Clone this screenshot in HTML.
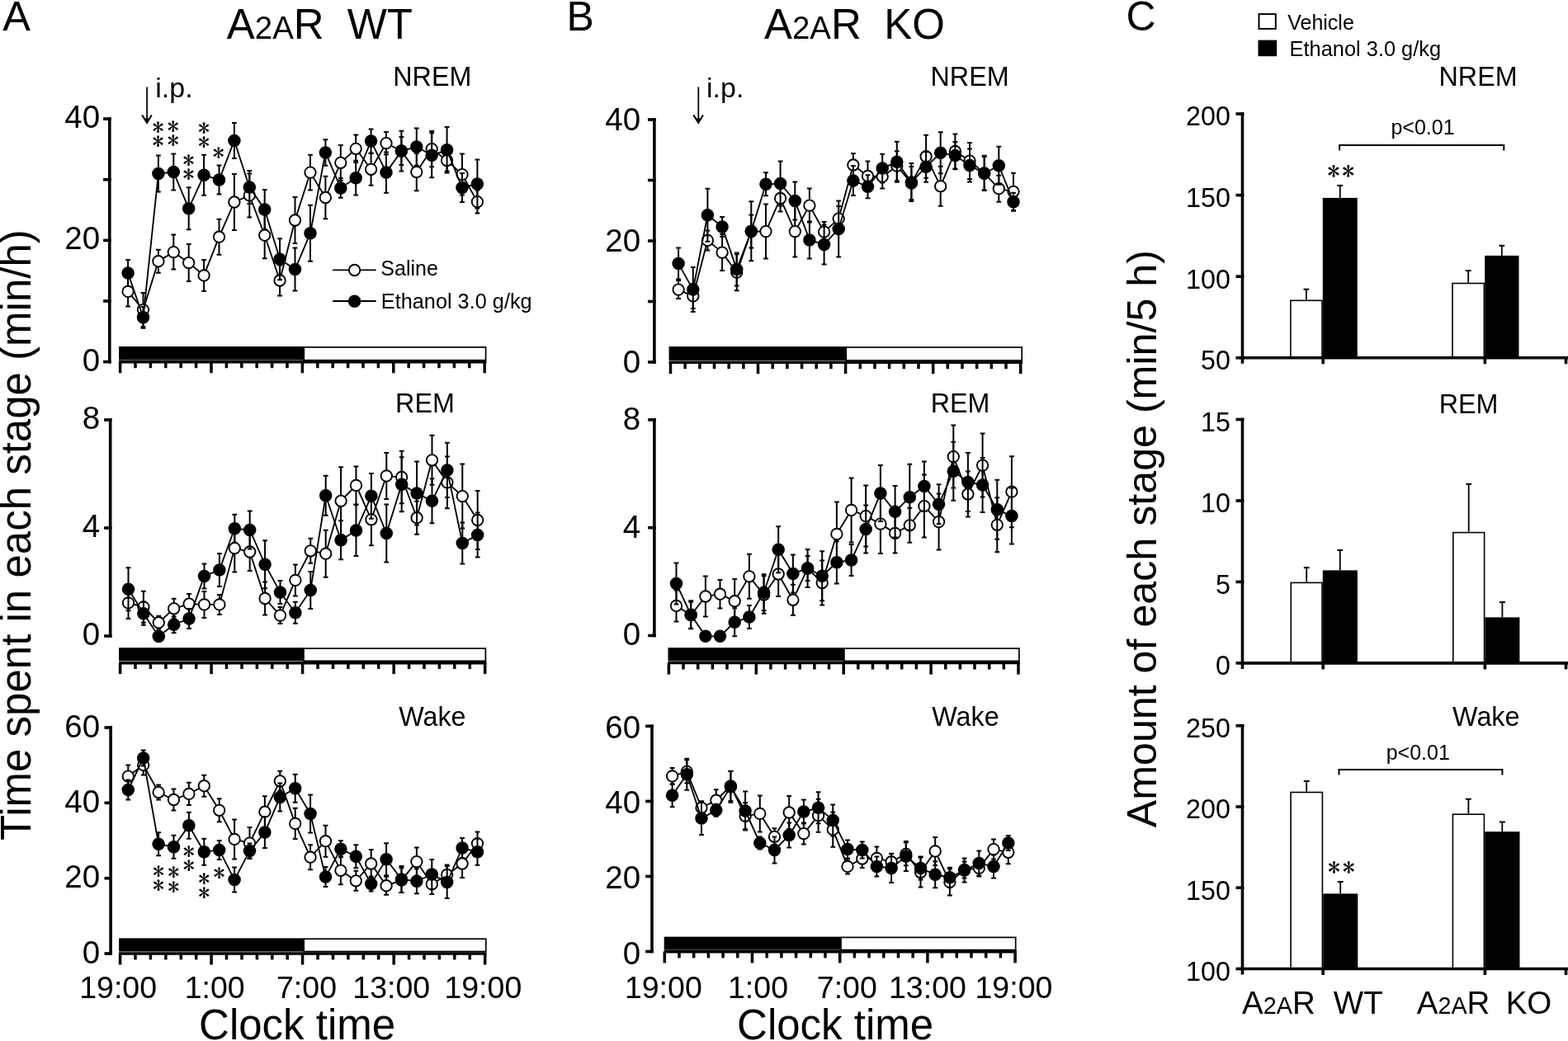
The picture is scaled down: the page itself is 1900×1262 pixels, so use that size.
<!DOCTYPE html>
<html><head><meta charset="utf-8"><title>Figure</title>
<style>html,body{margin:0;padding:0;background:#fff;overflow:hidden;} svg{display:block;}</style>
</head><body>
<svg width="1900" height="1262" viewBox="0 0 1900 1262">
<rect width="1900" height="1262" fill="#fff"/>
<text x="3.3" y="37.0" font-family="'Liberation Sans', Arial, sans-serif" font-size="50.5" text-anchor="start" >A</text>
<text x="686.4" y="36.9" font-family="'Liberation Sans', Arial, sans-serif" font-size="50" text-anchor="start" >B</text>
<text x="1364.6" y="36.9" font-family="'Liberation Sans', Arial, sans-serif" font-size="50" text-anchor="start" >C</text>
<text x="274.7" y="47" font-family="'Liberation Sans', Arial, sans-serif" font-size="51">A<tspan font-size="38.5">2A</tspan>R</text>
<text x="420.7" y="47" font-family="'Liberation Sans', Arial, sans-serif" font-size="51">WT</text>
<text x="925.9" y="46.8" font-family="'Liberation Sans', Arial, sans-serif" font-size="51">A<tspan font-size="38.5">2A</tspan>R</text>
<text x="1071.2" y="46.8" font-family="'Liberation Sans', Arial, sans-serif" font-size="51">KO</text>
<line x1="132.8" y1="142.3" x2="132.8" y2="440.4" stroke="#000" stroke-width="3.6" />
<line x1="125.1" y1="438.6" x2="134.7" y2="438.6" stroke="#000" stroke-width="3.6" />
<line x1="125.1" y1="365.0" x2="134.7" y2="365.0" stroke="#000" stroke-width="3.6" />
<line x1="125.1" y1="291.4" x2="134.7" y2="291.4" stroke="#000" stroke-width="3.6" />
<line x1="125.1" y1="217.7" x2="134.7" y2="217.7" stroke="#000" stroke-width="3.6" />
<line x1="125.1" y1="144.1" x2="134.7" y2="144.1" stroke="#000" stroke-width="3.6" />
<text x="121.2" y="449.6" font-family="'Liberation Sans', Arial, sans-serif" font-size="38.5" text-anchor="end" >0</text>
<text x="121.2" y="302.4" font-family="'Liberation Sans', Arial, sans-serif" font-size="38.5" text-anchor="end" >20</text>
<text x="121.2" y="155.1" font-family="'Liberation Sans', Arial, sans-serif" font-size="38.5" text-anchor="end" >40</text>
<rect x="144.1" y="420.0" width="224.2" height="16.6" fill="#000"/>
<rect x="368.3" y="420.9" width="220.3" height="15.8" fill="#fff" stroke="#000" stroke-width="1.7"/>
<line x1="144.1" y1="438.8" x2="589.5" y2="438.8" stroke="#000" stroke-width="3.6" />
<line x1="145.6" y1="438.8" x2="145.6" y2="452.3" stroke="#000" stroke-width="3.5" />
<line x1="164.0" y1="438.8" x2="164.0" y2="446.2" stroke="#000" stroke-width="3.5" />
<line x1="182.4" y1="438.8" x2="182.4" y2="446.2" stroke="#000" stroke-width="3.5" />
<line x1="200.8" y1="438.8" x2="200.8" y2="446.2" stroke="#000" stroke-width="3.5" />
<line x1="219.2" y1="438.8" x2="219.2" y2="446.2" stroke="#000" stroke-width="3.5" />
<line x1="237.6" y1="438.8" x2="237.6" y2="446.2" stroke="#000" stroke-width="3.5" />
<line x1="256.0" y1="438.8" x2="256.0" y2="452.3" stroke="#000" stroke-width="3.5" />
<line x1="274.4" y1="438.8" x2="274.4" y2="446.2" stroke="#000" stroke-width="3.5" />
<line x1="292.8" y1="438.8" x2="292.8" y2="446.2" stroke="#000" stroke-width="3.5" />
<line x1="311.2" y1="438.8" x2="311.2" y2="446.2" stroke="#000" stroke-width="3.5" />
<line x1="329.6" y1="438.8" x2="329.6" y2="446.2" stroke="#000" stroke-width="3.5" />
<line x1="348.0" y1="438.8" x2="348.0" y2="446.2" stroke="#000" stroke-width="3.5" />
<line x1="366.4" y1="438.8" x2="366.4" y2="452.3" stroke="#000" stroke-width="3.5" />
<line x1="384.8" y1="438.8" x2="384.8" y2="446.2" stroke="#000" stroke-width="3.5" />
<line x1="403.2" y1="438.8" x2="403.2" y2="446.2" stroke="#000" stroke-width="3.5" />
<line x1="421.6" y1="438.8" x2="421.6" y2="446.2" stroke="#000" stroke-width="3.5" />
<line x1="440.0" y1="438.8" x2="440.0" y2="446.2" stroke="#000" stroke-width="3.5" />
<line x1="458.4" y1="438.8" x2="458.4" y2="446.2" stroke="#000" stroke-width="3.5" />
<line x1="476.8" y1="438.8" x2="476.8" y2="452.3" stroke="#000" stroke-width="3.5" />
<line x1="495.2" y1="438.8" x2="495.2" y2="446.2" stroke="#000" stroke-width="3.5" />
<line x1="513.6" y1="438.8" x2="513.6" y2="446.2" stroke="#000" stroke-width="3.5" />
<line x1="532.0" y1="438.8" x2="532.0" y2="446.2" stroke="#000" stroke-width="3.5" />
<line x1="550.4" y1="438.8" x2="550.4" y2="446.2" stroke="#000" stroke-width="3.5" />
<line x1="568.8" y1="438.8" x2="568.8" y2="446.2" stroke="#000" stroke-width="3.5" />
<line x1="587.2" y1="438.8" x2="587.2" y2="452.3" stroke="#000" stroke-width="3.5" />
<path d="M155.1,353.4 L173.5,375.6 L191.9,316.7 L210.3,305.6 L228.7,318.6 L247.1,333.9 L265.5,287.2 L283.9,245.0 L302.3,236.9 L320.7,285.2 L339.1,340.0 L357.5,267.0 L376.0,209.1 L394.4,239.5 L412.8,197.3 L431.2,180.3 L449.6,205.3 L468.0,173.6 L486.4,183.0 L504.8,208.5 L523.2,180.6 L541.6,194.5 L560.0,211.6 L578.4,244.6" fill="none" stroke="#000" stroke-width="1.85"/>
<path d="M155.1,335.4V371.4M152.2,335.4H158.0M152.2,371.4H158.0" stroke="#000" stroke-width="2.0" fill="none"/>
<path d="M173.5,355.0V396.2M170.6,355.0H176.4M170.6,396.2H176.4" stroke="#000" stroke-width="2.0" fill="none"/>
<path d="M191.9,302.7V330.7M189.0,302.7H194.8M189.0,330.7H194.8" stroke="#000" stroke-width="2.0" fill="none"/>
<path d="M210.3,284.6V326.6M207.4,284.6H213.2M207.4,326.6H213.2" stroke="#000" stroke-width="2.0" fill="none"/>
<path d="M228.7,296.1V341.1M225.8,296.1H231.6M225.8,341.1H231.6" stroke="#000" stroke-width="2.0" fill="none"/>
<path d="M247.1,314.9V352.9M244.2,314.9H250.0M244.2,352.9H250.0" stroke="#000" stroke-width="2.0" fill="none"/>
<path d="M265.5,265.7V308.7M262.6,265.7H268.4M262.6,308.7H268.4" stroke="#000" stroke-width="2.0" fill="none"/>
<path d="M283.9,211.0V279.0M281.0,211.0H286.8M281.0,279.0H286.8" stroke="#000" stroke-width="2.0" fill="none"/>
<path d="M302.3,210.4V263.4M299.4,210.4H305.2M299.4,263.4H305.2" stroke="#000" stroke-width="2.0" fill="none"/>
<path d="M320.7,257.2V313.2M317.8,257.2H323.6M317.8,313.2H323.6" stroke="#000" stroke-width="2.0" fill="none"/>
<path d="M339.1,321.6V358.4M336.2,321.6H342.0M336.2,358.4H342.0" stroke="#000" stroke-width="2.0" fill="none"/>
<path d="M357.5,239.0V295.0M354.6,239.0H360.4M354.6,295.0H360.4" stroke="#000" stroke-width="2.0" fill="none"/>
<path d="M376.0,187.7V230.5M373.1,187.7H378.9M373.1,230.5H378.9" stroke="#000" stroke-width="2.0" fill="none"/>
<path d="M394.4,213.8V265.2M391.5,213.8H397.3M391.5,265.2H397.3" stroke="#000" stroke-width="2.0" fill="none"/>
<path d="M412.8,175.9V218.7M409.9,175.9H415.7M409.9,218.7H415.7" stroke="#000" stroke-width="2.0" fill="none"/>
<path d="M431.2,163.5V197.1M428.3,163.5H434.1M428.3,197.1H434.1" stroke="#000" stroke-width="2.0" fill="none"/>
<path d="M449.6,185.9V224.7M446.7,185.9H452.5M446.7,224.7H452.5" stroke="#000" stroke-width="2.0" fill="none"/>
<path d="M468.0,159.9V187.3M465.1,159.9H470.9M465.1,187.3H470.9" stroke="#000" stroke-width="2.0" fill="none"/>
<path d="M486.4,166.0V200.0M483.5,166.0H489.3M483.5,200.0H489.3" stroke="#000" stroke-width="2.0" fill="none"/>
<path d="M504.8,185.7V231.3M501.9,185.7H507.7M501.9,231.3H507.7" stroke="#000" stroke-width="2.0" fill="none"/>
<path d="M523.2,159.0V202.2M520.3,159.0H526.1M520.3,202.2H526.1" stroke="#000" stroke-width="2.0" fill="none"/>
<path d="M541.6,181.5V207.5M538.7,181.5H544.5M538.7,207.5H544.5" stroke="#000" stroke-width="2.0" fill="none"/>
<path d="M560.0,186.6V236.6M557.1,186.6H562.9M557.1,236.6H562.9" stroke="#000" stroke-width="2.0" fill="none"/>
<path d="M578.4,230.6V258.6M575.5,230.6H581.3M575.5,258.6H581.3" stroke="#000" stroke-width="2.0" fill="none"/>
<circle cx="155.1" cy="353.4" r="6.7" fill="#fff" stroke="#000" stroke-width="1.9"/>
<circle cx="173.5" cy="375.6" r="6.7" fill="#fff" stroke="#000" stroke-width="1.9"/>
<circle cx="191.9" cy="316.7" r="6.7" fill="#fff" stroke="#000" stroke-width="1.9"/>
<circle cx="210.3" cy="305.6" r="6.7" fill="#fff" stroke="#000" stroke-width="1.9"/>
<circle cx="228.7" cy="318.6" r="6.7" fill="#fff" stroke="#000" stroke-width="1.9"/>
<circle cx="247.1" cy="333.9" r="6.7" fill="#fff" stroke="#000" stroke-width="1.9"/>
<circle cx="265.5" cy="287.2" r="6.7" fill="#fff" stroke="#000" stroke-width="1.9"/>
<circle cx="283.9" cy="245.0" r="6.7" fill="#fff" stroke="#000" stroke-width="1.9"/>
<circle cx="302.3" cy="236.9" r="6.7" fill="#fff" stroke="#000" stroke-width="1.9"/>
<circle cx="320.7" cy="285.2" r="6.7" fill="#fff" stroke="#000" stroke-width="1.9"/>
<circle cx="339.1" cy="340.0" r="6.7" fill="#fff" stroke="#000" stroke-width="1.9"/>
<circle cx="357.5" cy="267.0" r="6.7" fill="#fff" stroke="#000" stroke-width="1.9"/>
<circle cx="376.0" cy="209.1" r="6.7" fill="#fff" stroke="#000" stroke-width="1.9"/>
<circle cx="394.4" cy="239.5" r="6.7" fill="#fff" stroke="#000" stroke-width="1.9"/>
<circle cx="412.8" cy="197.3" r="6.7" fill="#fff" stroke="#000" stroke-width="1.9"/>
<circle cx="431.2" cy="180.3" r="6.7" fill="#fff" stroke="#000" stroke-width="1.9"/>
<circle cx="449.6" cy="205.3" r="6.7" fill="#fff" stroke="#000" stroke-width="1.9"/>
<circle cx="468.0" cy="173.6" r="6.7" fill="#fff" stroke="#000" stroke-width="1.9"/>
<circle cx="486.4" cy="183.0" r="6.7" fill="#fff" stroke="#000" stroke-width="1.9"/>
<circle cx="504.8" cy="208.5" r="6.7" fill="#fff" stroke="#000" stroke-width="1.9"/>
<circle cx="523.2" cy="180.6" r="6.7" fill="#fff" stroke="#000" stroke-width="1.9"/>
<circle cx="541.6" cy="194.5" r="6.7" fill="#fff" stroke="#000" stroke-width="1.9"/>
<circle cx="560.0" cy="211.6" r="6.7" fill="#fff" stroke="#000" stroke-width="1.9"/>
<circle cx="578.4" cy="244.6" r="6.7" fill="#fff" stroke="#000" stroke-width="1.9"/>
<path d="M155.1,331.0 L173.5,384.8 L191.9,210.6 L210.3,208.6 L228.7,252.8 L247.1,212.3 L265.5,218.0 L283.9,170.5 L302.3,227.0 L320.7,254.0 L339.1,314.2 L357.5,326.5 L376.0,282.8 L394.4,185.0 L412.8,227.9 L431.2,215.7 L449.6,171.0 L468.0,209.1 L486.4,183.1 L504.8,178.0 L523.2,188.2 L541.6,181.8 L560.0,227.5 L578.4,223.0" fill="none" stroke="#000" stroke-width="1.85"/>
<path d="M155.1,315.0V347.0M152.2,315.0H158.0M152.2,347.0H158.0" stroke="#000" stroke-width="2.0" fill="none"/>
<path d="M173.5,371.9V397.7M170.6,371.9H176.4M170.6,397.7H176.4" stroke="#000" stroke-width="2.0" fill="none"/>
<path d="M191.9,188.6V232.6M189.0,188.6H194.8M189.0,232.6H194.8" stroke="#000" stroke-width="2.0" fill="none"/>
<path d="M210.3,186.6V230.6M207.4,186.6H213.2M207.4,230.6H213.2" stroke="#000" stroke-width="2.0" fill="none"/>
<path d="M228.7,227.3V278.3M225.8,227.3H231.6M225.8,278.3H231.6" stroke="#000" stroke-width="2.0" fill="none"/>
<path d="M247.1,187.8V236.8M244.2,187.8H250.0M244.2,236.8H250.0" stroke="#000" stroke-width="2.0" fill="none"/>
<path d="M265.5,200.5V235.5M262.6,200.5H268.4M262.6,235.5H268.4" stroke="#000" stroke-width="2.0" fill="none"/>
<path d="M283.9,149.0V192.0M281.0,149.0H286.8M281.0,192.0H286.8" stroke="#000" stroke-width="2.0" fill="none"/>
<path d="M302.3,207.0V247.0M299.4,207.0H305.2M299.4,247.0H305.2" stroke="#000" stroke-width="2.0" fill="none"/>
<path d="M320.7,230.0V278.0M317.8,230.0H323.6M317.8,278.0H323.6" stroke="#000" stroke-width="2.0" fill="none"/>
<path d="M339.1,289.2V339.2M336.2,289.2H342.0M336.2,339.2H342.0" stroke="#000" stroke-width="2.0" fill="none"/>
<path d="M357.5,300.5V352.5M354.6,300.5H360.4M354.6,352.5H360.4" stroke="#000" stroke-width="2.0" fill="none"/>
<path d="M376.0,248.8V316.8M373.1,248.8H378.9M373.1,316.8H378.9" stroke="#000" stroke-width="2.0" fill="none"/>
<path d="M394.4,169.2V200.8M391.5,169.2H397.3M391.5,200.8H397.3" stroke="#000" stroke-width="2.0" fill="none"/>
<path d="M412.8,216.1V239.7M409.9,216.1H415.7M409.9,239.7H415.7" stroke="#000" stroke-width="2.0" fill="none"/>
<path d="M431.2,194.8V236.6M428.3,194.8H434.1M428.3,236.6H434.1" stroke="#000" stroke-width="2.0" fill="none"/>
<path d="M449.6,156.5V185.5M446.7,156.5H452.5M446.7,185.5H452.5" stroke="#000" stroke-width="2.0" fill="none"/>
<path d="M468.0,184.4V233.8M465.1,184.4H470.9M465.1,233.8H470.9" stroke="#000" stroke-width="2.0" fill="none"/>
<path d="M486.4,158.7V207.5M483.5,158.7H489.3M483.5,207.5H489.3" stroke="#000" stroke-width="2.0" fill="none"/>
<path d="M504.8,155.5V200.5M501.9,155.5H507.7M501.9,200.5H507.7" stroke="#000" stroke-width="2.0" fill="none"/>
<path d="M523.2,161.2V215.2M520.3,161.2H526.1M520.3,215.2H526.1" stroke="#000" stroke-width="2.0" fill="none"/>
<path d="M541.6,154.0V209.6M538.7,154.0H544.5M538.7,209.6H544.5" stroke="#000" stroke-width="2.0" fill="none"/>
<path d="M560.0,210.0V245.0M557.1,210.0H562.9M557.1,245.0H562.9" stroke="#000" stroke-width="2.0" fill="none"/>
<path d="M578.4,193.5V252.5M575.5,193.5H581.3M575.5,252.5H581.3" stroke="#000" stroke-width="2.0" fill="none"/>
<circle cx="155.1" cy="331.0" r="7.75" fill="#000"/>
<circle cx="173.5" cy="384.8" r="7.75" fill="#000"/>
<circle cx="191.9" cy="210.6" r="7.75" fill="#000"/>
<circle cx="210.3" cy="208.6" r="7.75" fill="#000"/>
<circle cx="228.7" cy="252.8" r="7.75" fill="#000"/>
<circle cx="247.1" cy="212.3" r="7.75" fill="#000"/>
<circle cx="265.5" cy="218.0" r="7.75" fill="#000"/>
<circle cx="283.9" cy="170.5" r="7.75" fill="#000"/>
<circle cx="302.3" cy="227.0" r="7.75" fill="#000"/>
<circle cx="320.7" cy="254.0" r="7.75" fill="#000"/>
<circle cx="339.1" cy="314.2" r="7.75" fill="#000"/>
<circle cx="357.5" cy="326.5" r="7.75" fill="#000"/>
<circle cx="376.0" cy="282.8" r="7.75" fill="#000"/>
<circle cx="394.4" cy="185.0" r="7.75" fill="#000"/>
<circle cx="412.8" cy="227.9" r="7.75" fill="#000"/>
<circle cx="431.2" cy="215.7" r="7.75" fill="#000"/>
<circle cx="449.6" cy="171.0" r="7.75" fill="#000"/>
<circle cx="468.0" cy="209.1" r="7.75" fill="#000"/>
<circle cx="486.4" cy="183.1" r="7.75" fill="#000"/>
<circle cx="504.8" cy="178.0" r="7.75" fill="#000"/>
<circle cx="523.2" cy="188.2" r="7.75" fill="#000"/>
<circle cx="541.6" cy="181.8" r="7.75" fill="#000"/>
<circle cx="560.0" cy="227.5" r="7.75" fill="#000"/>
<circle cx="578.4" cy="223.0" r="7.75" fill="#000"/>
<text x="476.3" y="103.8" font-family="'Liberation Sans', Arial, sans-serif" font-size="32.3" text-anchor="start" >NREM</text>
<line x1="133.7" y1="507.2" x2="133.7" y2="772.8" stroke="#000" stroke-width="3.6" />
<line x1="126.1" y1="771.0" x2="135.5" y2="771.0" stroke="#000" stroke-width="3.6" />
<line x1="126.1" y1="640.0" x2="135.5" y2="640.0" stroke="#000" stroke-width="3.6" />
<line x1="126.1" y1="509.0" x2="135.5" y2="509.0" stroke="#000" stroke-width="3.6" />
<text x="121.1" y="782.0" font-family="'Liberation Sans', Arial, sans-serif" font-size="38.5" text-anchor="end" >0</text>
<text x="121.1" y="651.0" font-family="'Liberation Sans', Arial, sans-serif" font-size="38.5" text-anchor="end" >4</text>
<text x="121.1" y="520.0" font-family="'Liberation Sans', Arial, sans-serif" font-size="38.5" text-anchor="end" >8</text>
<rect x="144.1" y="785.2" width="223.9" height="16.0" fill="#000"/>
<rect x="368.0" y="786.1" width="220.4" height="15.2" fill="#fff" stroke="#000" stroke-width="1.7"/>
<line x1="144.1" y1="803.6" x2="589.4" y2="803.6" stroke="#000" stroke-width="3.6" />
<line x1="145.6" y1="803.6" x2="145.6" y2="817.1" stroke="#000" stroke-width="3.5" />
<line x1="164.0" y1="803.6" x2="164.0" y2="811.0" stroke="#000" stroke-width="3.5" />
<line x1="182.4" y1="803.6" x2="182.4" y2="811.0" stroke="#000" stroke-width="3.5" />
<line x1="200.9" y1="803.6" x2="200.9" y2="811.0" stroke="#000" stroke-width="3.5" />
<line x1="219.3" y1="803.6" x2="219.3" y2="811.0" stroke="#000" stroke-width="3.5" />
<line x1="237.7" y1="803.6" x2="237.7" y2="811.0" stroke="#000" stroke-width="3.5" />
<line x1="256.1" y1="803.6" x2="256.1" y2="817.1" stroke="#000" stroke-width="3.5" />
<line x1="274.5" y1="803.6" x2="274.5" y2="811.0" stroke="#000" stroke-width="3.5" />
<line x1="293.0" y1="803.6" x2="293.0" y2="811.0" stroke="#000" stroke-width="3.5" />
<line x1="311.4" y1="803.6" x2="311.4" y2="811.0" stroke="#000" stroke-width="3.5" />
<line x1="329.8" y1="803.6" x2="329.8" y2="811.0" stroke="#000" stroke-width="3.5" />
<line x1="348.2" y1="803.6" x2="348.2" y2="811.0" stroke="#000" stroke-width="3.5" />
<line x1="366.6" y1="803.6" x2="366.6" y2="817.1" stroke="#000" stroke-width="3.5" />
<line x1="385.1" y1="803.6" x2="385.1" y2="811.0" stroke="#000" stroke-width="3.5" />
<line x1="403.5" y1="803.6" x2="403.5" y2="811.0" stroke="#000" stroke-width="3.5" />
<line x1="421.9" y1="803.6" x2="421.9" y2="811.0" stroke="#000" stroke-width="3.5" />
<line x1="440.3" y1="803.6" x2="440.3" y2="811.0" stroke="#000" stroke-width="3.5" />
<line x1="458.7" y1="803.6" x2="458.7" y2="811.0" stroke="#000" stroke-width="3.5" />
<line x1="477.2" y1="803.6" x2="477.2" y2="817.1" stroke="#000" stroke-width="3.5" />
<line x1="495.6" y1="803.6" x2="495.6" y2="811.0" stroke="#000" stroke-width="3.5" />
<line x1="514.0" y1="803.6" x2="514.0" y2="811.0" stroke="#000" stroke-width="3.5" />
<line x1="532.4" y1="803.6" x2="532.4" y2="811.0" stroke="#000" stroke-width="3.5" />
<line x1="550.8" y1="803.6" x2="550.8" y2="811.0" stroke="#000" stroke-width="3.5" />
<line x1="569.3" y1="803.6" x2="569.3" y2="811.0" stroke="#000" stroke-width="3.5" />
<line x1="587.7" y1="803.6" x2="587.7" y2="817.1" stroke="#000" stroke-width="3.5" />
<path d="M155.5,730.9 L173.9,735.8 L192.3,754.7 L210.7,737.8 L229.1,732.1 L247.5,732.9 L265.9,732.9 L284.3,664.6 L302.7,669.0 L321.1,725.5 L339.5,746.1 L357.9,703.4 L376.3,667.8 L394.7,671.2 L413.1,607.3 L431.5,588.4 L449.9,629.8 L468.3,576.9 L486.7,578.5 L505.1,627.7 L523.5,557.8 L541.9,584.9 L560.3,601.6 L578.7,630.5" fill="none" stroke="#000" stroke-width="1.85"/>
<path d="M155.5,711.9V749.9M152.6,711.9H158.4M152.6,749.9H158.4" stroke="#000" stroke-width="2.0" fill="none"/>
<path d="M173.9,716.8V754.8M171.0,716.8H176.8M171.0,754.8H176.8" stroke="#000" stroke-width="2.0" fill="none"/>
<path d="M192.3,746.7V762.7M189.4,746.7H195.2M189.4,762.7H195.2" stroke="#000" stroke-width="2.0" fill="none"/>
<path d="M210.7,725.8V749.8M207.8,725.8H213.6M207.8,749.8H213.6" stroke="#000" stroke-width="2.0" fill="none"/>
<path d="M229.1,720.1V744.1M226.2,720.1H232.0M226.2,744.1H232.0" stroke="#000" stroke-width="2.0" fill="none"/>
<path d="M247.5,716.9V748.9M244.6,716.9H250.4M244.6,748.9H250.4" stroke="#000" stroke-width="2.0" fill="none"/>
<path d="M265.9,720.9V744.9M263.0,720.9H268.8M263.0,744.9H268.8" stroke="#000" stroke-width="2.0" fill="none"/>
<path d="M284.3,635.6V693.6M281.4,635.6H287.2M281.4,693.6H287.2" stroke="#000" stroke-width="2.0" fill="none"/>
<path d="M302.7,646.0V692.0M299.8,646.0H305.6M299.8,692.0H305.6" stroke="#000" stroke-width="2.0" fill="none"/>
<path d="M321.1,705.5V745.5M318.2,705.5H324.0M318.2,745.5H324.0" stroke="#000" stroke-width="2.0" fill="none"/>
<path d="M339.5,736.1V756.1M336.6,736.1H342.4M336.6,756.1H342.4" stroke="#000" stroke-width="2.0" fill="none"/>
<path d="M357.9,684.4V722.4M355.0,684.4H360.8M355.0,722.4H360.8" stroke="#000" stroke-width="2.0" fill="none"/>
<path d="M376.3,652.8V682.8M373.4,652.8H379.2M373.4,682.8H379.2" stroke="#000" stroke-width="2.0" fill="none"/>
<path d="M394.7,642.7V699.7M391.8,642.7H397.6M391.8,699.7H397.6" stroke="#000" stroke-width="2.0" fill="none"/>
<path d="M413.1,566.3V648.3M410.2,566.3H416.0M410.2,648.3H416.0" stroke="#000" stroke-width="2.0" fill="none"/>
<path d="M431.5,565.4V611.4M428.6,565.4H434.4M428.6,611.4H434.4" stroke="#000" stroke-width="2.0" fill="none"/>
<path d="M449.9,598.4V661.2M447.0,598.4H452.8M447.0,661.2H452.8" stroke="#000" stroke-width="2.0" fill="none"/>
<path d="M468.3,548.9V604.9M465.4,548.9H471.2M465.4,604.9H471.2" stroke="#000" stroke-width="2.0" fill="none"/>
<path d="M486.7,546.8V610.2M483.8,546.8H489.6M483.8,610.2H489.6" stroke="#000" stroke-width="2.0" fill="none"/>
<path d="M505.1,607.7V647.7M502.2,607.7H508.0M502.2,647.7H508.0" stroke="#000" stroke-width="2.0" fill="none"/>
<path d="M523.5,527.8V587.8M520.6,527.8H526.4M520.6,587.8H526.4" stroke="#000" stroke-width="2.0" fill="none"/>
<path d="M541.9,553.5V616.3M539.0,553.5H544.8M539.0,616.3H544.8" stroke="#000" stroke-width="2.0" fill="none"/>
<path d="M560.3,562.6V640.6M557.4,562.6H563.2M557.4,640.6H563.2" stroke="#000" stroke-width="2.0" fill="none"/>
<path d="M578.7,595.1V665.9M575.8,595.1H581.6M575.8,665.9H581.6" stroke="#000" stroke-width="2.0" fill="none"/>
<circle cx="155.5" cy="730.9" r="6.7" fill="#fff" stroke="#000" stroke-width="1.9"/>
<circle cx="173.9" cy="735.8" r="6.7" fill="#fff" stroke="#000" stroke-width="1.9"/>
<circle cx="192.3" cy="754.7" r="6.7" fill="#fff" stroke="#000" stroke-width="1.9"/>
<circle cx="210.7" cy="737.8" r="6.7" fill="#fff" stroke="#000" stroke-width="1.9"/>
<circle cx="229.1" cy="732.1" r="6.7" fill="#fff" stroke="#000" stroke-width="1.9"/>
<circle cx="247.5" cy="732.9" r="6.7" fill="#fff" stroke="#000" stroke-width="1.9"/>
<circle cx="265.9" cy="732.9" r="6.7" fill="#fff" stroke="#000" stroke-width="1.9"/>
<circle cx="284.3" cy="664.6" r="6.7" fill="#fff" stroke="#000" stroke-width="1.9"/>
<circle cx="302.7" cy="669.0" r="6.7" fill="#fff" stroke="#000" stroke-width="1.9"/>
<circle cx="321.1" cy="725.5" r="6.7" fill="#fff" stroke="#000" stroke-width="1.9"/>
<circle cx="339.5" cy="746.1" r="6.7" fill="#fff" stroke="#000" stroke-width="1.9"/>
<circle cx="357.9" cy="703.4" r="6.7" fill="#fff" stroke="#000" stroke-width="1.9"/>
<circle cx="376.3" cy="667.8" r="6.7" fill="#fff" stroke="#000" stroke-width="1.9"/>
<circle cx="394.7" cy="671.2" r="6.7" fill="#fff" stroke="#000" stroke-width="1.9"/>
<circle cx="413.1" cy="607.3" r="6.7" fill="#fff" stroke="#000" stroke-width="1.9"/>
<circle cx="431.5" cy="588.4" r="6.7" fill="#fff" stroke="#000" stroke-width="1.9"/>
<circle cx="449.9" cy="629.8" r="6.7" fill="#fff" stroke="#000" stroke-width="1.9"/>
<circle cx="468.3" cy="576.9" r="6.7" fill="#fff" stroke="#000" stroke-width="1.9"/>
<circle cx="486.7" cy="578.5" r="6.7" fill="#fff" stroke="#000" stroke-width="1.9"/>
<circle cx="505.1" cy="627.7" r="6.7" fill="#fff" stroke="#000" stroke-width="1.9"/>
<circle cx="523.5" cy="557.8" r="6.7" fill="#fff" stroke="#000" stroke-width="1.9"/>
<circle cx="541.9" cy="584.9" r="6.7" fill="#fff" stroke="#000" stroke-width="1.9"/>
<circle cx="560.3" cy="601.6" r="6.7" fill="#fff" stroke="#000" stroke-width="1.9"/>
<circle cx="578.7" cy="630.5" r="6.7" fill="#fff" stroke="#000" stroke-width="1.9"/>
<path d="M155.5,714.2 L173.9,743.7 L192.3,771.4 L210.7,757.2 L229.1,750.1 L247.5,698.5 L265.9,690.9 L284.3,640.8 L302.7,642.5 L321.1,684.2 L339.5,718.1 L357.9,742.7 L376.3,715.4 L394.7,600.7 L413.1,654.8 L431.5,643.0 L449.9,601.3 L468.3,646.6 L486.7,587.2 L505.1,598.1 L523.5,607.3 L541.9,569.9 L560.3,658.4 L578.7,648.6" fill="none" stroke="#000" stroke-width="1.85"/>
<path d="M155.5,688.2V740.2M152.6,688.2H158.4M152.6,740.2H158.4" stroke="#000" stroke-width="2.0" fill="none"/>
<path d="M173.9,729.7V757.7M171.0,729.7H176.8M171.0,757.7H176.8" stroke="#000" stroke-width="2.0" fill="none"/>
<path d="M210.7,747.2V767.2M207.8,747.2H213.6M207.8,767.2H213.6" stroke="#000" stroke-width="2.0" fill="none"/>
<path d="M229.1,738.1V762.1M226.2,738.1H232.0M226.2,762.1H232.0" stroke="#000" stroke-width="2.0" fill="none"/>
<path d="M247.5,683.5V713.5M244.6,683.5H250.4M244.6,713.5H250.4" stroke="#000" stroke-width="2.0" fill="none"/>
<path d="M265.9,670.9V710.9M263.0,670.9H268.8M263.0,710.9H268.8" stroke="#000" stroke-width="2.0" fill="none"/>
<path d="M284.3,623.8V657.8M281.4,623.8H287.2M281.4,657.8H287.2" stroke="#000" stroke-width="2.0" fill="none"/>
<path d="M302.7,619.5V665.5M299.8,619.5H305.6M299.8,665.5H305.6" stroke="#000" stroke-width="2.0" fill="none"/>
<path d="M321.1,655.2V713.2M318.2,655.2H324.0M318.2,713.2H324.0" stroke="#000" stroke-width="2.0" fill="none"/>
<path d="M339.5,704.1V732.1M336.6,704.1H342.4M336.6,732.1H342.4" stroke="#000" stroke-width="2.0" fill="none"/>
<path d="M357.9,729.7V755.7M355.0,729.7H360.8M355.0,755.7H360.8" stroke="#000" stroke-width="2.0" fill="none"/>
<path d="M376.3,692.9V737.9M373.4,692.9H379.2M373.4,737.9H379.2" stroke="#000" stroke-width="2.0" fill="none"/>
<path d="M394.7,576.7V624.7M391.8,576.7H397.6M391.8,624.7H397.6" stroke="#000" stroke-width="2.0" fill="none"/>
<path d="M413.1,631.3V678.3M410.2,631.3H416.0M410.2,678.3H416.0" stroke="#000" stroke-width="2.0" fill="none"/>
<path d="M431.5,612.0V674.0M428.6,612.0H434.4M428.6,674.0H434.4" stroke="#000" stroke-width="2.0" fill="none"/>
<path d="M449.9,573.9V628.7M447.0,573.9H452.8M447.0,628.7H452.8" stroke="#000" stroke-width="2.0" fill="none"/>
<path d="M468.3,611.6V681.6M465.4,611.6H471.2M465.4,681.6H471.2" stroke="#000" stroke-width="2.0" fill="none"/>
<path d="M486.7,554.2V620.2M483.8,554.2H489.6M483.8,620.2H489.6" stroke="#000" stroke-width="2.0" fill="none"/>
<path d="M505.1,559.6V636.6M502.2,559.6H508.0M502.2,636.6H508.0" stroke="#000" stroke-width="2.0" fill="none"/>
<path d="M523.5,580.3V634.3M520.6,580.3H526.4M520.6,634.3H526.4" stroke="#000" stroke-width="2.0" fill="none"/>
<path d="M541.9,536.8V603.0M539.0,536.8H544.8M539.0,603.0H544.8" stroke="#000" stroke-width="2.0" fill="none"/>
<path d="M560.3,633.4V683.4M557.4,633.4H563.2M557.4,683.4H563.2" stroke="#000" stroke-width="2.0" fill="none"/>
<path d="M578.7,621.6V675.6M575.8,621.6H581.6M575.8,675.6H581.6" stroke="#000" stroke-width="2.0" fill="none"/>
<circle cx="155.5" cy="714.2" r="7.75" fill="#000"/>
<circle cx="173.9" cy="743.7" r="7.75" fill="#000"/>
<circle cx="192.3" cy="771.4" r="7.75" fill="#000"/>
<circle cx="210.7" cy="757.2" r="7.75" fill="#000"/>
<circle cx="229.1" cy="750.1" r="7.75" fill="#000"/>
<circle cx="247.5" cy="698.5" r="7.75" fill="#000"/>
<circle cx="265.9" cy="690.9" r="7.75" fill="#000"/>
<circle cx="284.3" cy="640.8" r="7.75" fill="#000"/>
<circle cx="302.7" cy="642.5" r="7.75" fill="#000"/>
<circle cx="321.1" cy="684.2" r="7.75" fill="#000"/>
<circle cx="339.5" cy="718.1" r="7.75" fill="#000"/>
<circle cx="357.9" cy="742.7" r="7.75" fill="#000"/>
<circle cx="376.3" cy="715.4" r="7.75" fill="#000"/>
<circle cx="394.7" cy="600.7" r="7.75" fill="#000"/>
<circle cx="413.1" cy="654.8" r="7.75" fill="#000"/>
<circle cx="431.5" cy="643.0" r="7.75" fill="#000"/>
<circle cx="449.9" cy="601.3" r="7.75" fill="#000"/>
<circle cx="468.3" cy="646.6" r="7.75" fill="#000"/>
<circle cx="486.7" cy="587.2" r="7.75" fill="#000"/>
<circle cx="505.1" cy="598.1" r="7.75" fill="#000"/>
<circle cx="523.5" cy="607.3" r="7.75" fill="#000"/>
<circle cx="541.9" cy="569.9" r="7.75" fill="#000"/>
<circle cx="560.3" cy="658.4" r="7.75" fill="#000"/>
<circle cx="578.7" cy="648.6" r="7.75" fill="#000"/>
<text x="479.1" y="499.7" font-family="'Liberation Sans', Arial, sans-serif" font-size="32.3" text-anchor="start" >REM</text>
<line x1="134.1" y1="880.2" x2="134.1" y2="1157.8" stroke="#000" stroke-width="3.6" />
<line x1="126.5" y1="1156.0" x2="135.9" y2="1156.0" stroke="#000" stroke-width="3.6" />
<line x1="126.5" y1="1064.7" x2="135.9" y2="1064.7" stroke="#000" stroke-width="3.6" />
<line x1="126.5" y1="973.3" x2="135.9" y2="973.3" stroke="#000" stroke-width="3.6" />
<line x1="126.5" y1="882.0" x2="135.9" y2="882.0" stroke="#000" stroke-width="3.6" />
<text x="121.2" y="1167.6" font-family="'Liberation Sans', Arial, sans-serif" font-size="38.5" text-anchor="end" >0</text>
<text x="121.2" y="1076.3" font-family="'Liberation Sans', Arial, sans-serif" font-size="38.5" text-anchor="end" >20</text>
<text x="121.2" y="984.9" font-family="'Liberation Sans', Arial, sans-serif" font-size="38.5" text-anchor="end" >40</text>
<text x="121.2" y="893.6" font-family="'Liberation Sans', Arial, sans-serif" font-size="38.5" text-anchor="end" >60</text>
<rect x="144.1" y="1137.4" width="224.1" height="16.2" fill="#000"/>
<rect x="368.2" y="1138.2" width="220.6" height="15.3" fill="#fff" stroke="#000" stroke-width="1.7"/>
<line x1="144.1" y1="1156.0" x2="589.6" y2="1156.0" stroke="#000" stroke-width="3.6" />
<line x1="145.6" y1="1156.0" x2="145.6" y2="1169.5" stroke="#000" stroke-width="3.5" />
<line x1="164.0" y1="1156.0" x2="164.0" y2="1163.4" stroke="#000" stroke-width="3.5" />
<line x1="182.4" y1="1156.0" x2="182.4" y2="1163.4" stroke="#000" stroke-width="3.5" />
<line x1="200.9" y1="1156.0" x2="200.9" y2="1163.4" stroke="#000" stroke-width="3.5" />
<line x1="219.3" y1="1156.0" x2="219.3" y2="1163.4" stroke="#000" stroke-width="3.5" />
<line x1="237.7" y1="1156.0" x2="237.7" y2="1163.4" stroke="#000" stroke-width="3.5" />
<line x1="256.1" y1="1156.0" x2="256.1" y2="1169.5" stroke="#000" stroke-width="3.5" />
<line x1="274.5" y1="1156.0" x2="274.5" y2="1163.4" stroke="#000" stroke-width="3.5" />
<line x1="293.0" y1="1156.0" x2="293.0" y2="1163.4" stroke="#000" stroke-width="3.5" />
<line x1="311.4" y1="1156.0" x2="311.4" y2="1163.4" stroke="#000" stroke-width="3.5" />
<line x1="329.8" y1="1156.0" x2="329.8" y2="1163.4" stroke="#000" stroke-width="3.5" />
<line x1="348.2" y1="1156.0" x2="348.2" y2="1163.4" stroke="#000" stroke-width="3.5" />
<line x1="366.6" y1="1156.0" x2="366.6" y2="1169.5" stroke="#000" stroke-width="3.5" />
<line x1="385.1" y1="1156.0" x2="385.1" y2="1163.4" stroke="#000" stroke-width="3.5" />
<line x1="403.5" y1="1156.0" x2="403.5" y2="1163.4" stroke="#000" stroke-width="3.5" />
<line x1="421.9" y1="1156.0" x2="421.9" y2="1163.4" stroke="#000" stroke-width="3.5" />
<line x1="440.3" y1="1156.0" x2="440.3" y2="1163.4" stroke="#000" stroke-width="3.5" />
<line x1="458.7" y1="1156.0" x2="458.7" y2="1163.4" stroke="#000" stroke-width="3.5" />
<line x1="477.2" y1="1156.0" x2="477.2" y2="1169.5" stroke="#000" stroke-width="3.5" />
<line x1="495.6" y1="1156.0" x2="495.6" y2="1163.4" stroke="#000" stroke-width="3.5" />
<line x1="514.0" y1="1156.0" x2="514.0" y2="1163.4" stroke="#000" stroke-width="3.5" />
<line x1="532.4" y1="1156.0" x2="532.4" y2="1163.4" stroke="#000" stroke-width="3.5" />
<line x1="550.8" y1="1156.0" x2="550.8" y2="1163.4" stroke="#000" stroke-width="3.5" />
<line x1="569.3" y1="1156.0" x2="569.3" y2="1163.4" stroke="#000" stroke-width="3.5" />
<line x1="587.7" y1="1156.0" x2="587.7" y2="1169.5" stroke="#000" stroke-width="3.5" />
<path d="M155.3,941.1 L173.7,927.4 L192.1,960.5 L210.5,969.5 L228.9,962.4 L247.3,952.7 L265.7,982.3 L284.1,1017.4 L302.5,1022.1 L320.9,984.2 L339.3,946.8 L357.7,998.4 L376.1,1039.2 L394.5,1019.7 L412.9,1055.3 L431.3,1067.8 L449.7,1047.0 L468.1,1073.7 L486.5,1067.1 L504.9,1044.6 L523.3,1071.9 L541.7,1060.5 L560.1,1047.0 L578.5,1022.6" fill="none" stroke="#000" stroke-width="1.85"/>
<path d="M155.3,927.6V954.6M152.4,927.6H158.2M152.4,954.6H158.2" stroke="#000" stroke-width="2.0" fill="none"/>
<path d="M173.7,915.4V939.4M170.8,915.4H176.6M170.8,939.4H176.6" stroke="#000" stroke-width="2.0" fill="none"/>
<path d="M192.1,951.5V969.5M189.2,951.5H195.0M189.2,969.5H195.0" stroke="#000" stroke-width="2.0" fill="none"/>
<path d="M210.5,956.5V982.5M207.6,956.5H213.4M207.6,982.5H213.4" stroke="#000" stroke-width="2.0" fill="none"/>
<path d="M228.9,948.8V976.0M226.0,948.8H231.8M226.0,976.0H231.8" stroke="#000" stroke-width="2.0" fill="none"/>
<path d="M247.3,939.7V965.7M244.4,939.7H250.2M244.4,965.7H250.2" stroke="#000" stroke-width="2.0" fill="none"/>
<path d="M265.7,968.3V996.3M262.8,968.3H268.6M262.8,996.3H268.6" stroke="#000" stroke-width="2.0" fill="none"/>
<path d="M284.1,993.4V1041.4M281.2,993.4H287.0M281.2,1041.4H287.0" stroke="#000" stroke-width="2.0" fill="none"/>
<path d="M302.5,1003.1V1041.1M299.6,1003.1H305.4M299.6,1041.1H305.4" stroke="#000" stroke-width="2.0" fill="none"/>
<path d="M320.9,965.2V1003.2M318.0,965.2H323.8M318.0,1003.2H323.8" stroke="#000" stroke-width="2.0" fill="none"/>
<path d="M339.3,934.8V958.8M336.4,934.8H342.2M336.4,958.8H342.2" stroke="#000" stroke-width="2.0" fill="none"/>
<path d="M357.7,979.7V1017.1M354.8,979.7H360.6M354.8,1017.1H360.6" stroke="#000" stroke-width="2.0" fill="none"/>
<path d="M376.1,1024.2V1054.2M373.2,1024.2H379.0M373.2,1054.2H379.0" stroke="#000" stroke-width="2.0" fill="none"/>
<path d="M394.5,1000.7V1038.7M391.6,1000.7H397.4M391.6,1038.7H397.4" stroke="#000" stroke-width="2.0" fill="none"/>
<path d="M412.9,1038.3V1072.3M410.0,1038.3H415.8M410.0,1072.3H415.8" stroke="#000" stroke-width="2.0" fill="none"/>
<path d="M431.3,1055.8V1079.8M428.4,1055.8H434.2M428.4,1079.8H434.2" stroke="#000" stroke-width="2.0" fill="none"/>
<path d="M449.7,1030.0V1064.0M446.8,1030.0H452.6M446.8,1064.0H452.6" stroke="#000" stroke-width="2.0" fill="none"/>
<path d="M468.1,1062.7V1084.7M465.2,1062.7H471.0M465.2,1084.7H471.0" stroke="#000" stroke-width="2.0" fill="none"/>
<path d="M486.5,1052.1V1082.1M483.6,1052.1H489.4M483.6,1082.1H489.4" stroke="#000" stroke-width="2.0" fill="none"/>
<path d="M504.9,1027.6V1061.6M502.0,1027.6H507.8M502.0,1061.6H507.8" stroke="#000" stroke-width="2.0" fill="none"/>
<path d="M523.3,1059.9V1083.9M520.4,1059.9H526.2M520.4,1083.9H526.2" stroke="#000" stroke-width="2.0" fill="none"/>
<path d="M541.7,1048.5V1072.5M538.8,1048.5H544.6M538.8,1072.5H544.6" stroke="#000" stroke-width="2.0" fill="none"/>
<path d="M560.1,1030.0V1064.0M557.2,1030.0H563.0M557.2,1064.0H563.0" stroke="#000" stroke-width="2.0" fill="none"/>
<path d="M578.5,1008.6V1036.6M575.6,1008.6H581.4M575.6,1036.6H581.4" stroke="#000" stroke-width="2.0" fill="none"/>
<circle cx="155.3" cy="941.1" r="6.7" fill="#fff" stroke="#000" stroke-width="1.9"/>
<circle cx="173.7" cy="927.4" r="6.7" fill="#fff" stroke="#000" stroke-width="1.9"/>
<circle cx="192.1" cy="960.5" r="6.7" fill="#fff" stroke="#000" stroke-width="1.9"/>
<circle cx="210.5" cy="969.5" r="6.7" fill="#fff" stroke="#000" stroke-width="1.9"/>
<circle cx="228.9" cy="962.4" r="6.7" fill="#fff" stroke="#000" stroke-width="1.9"/>
<circle cx="247.3" cy="952.7" r="6.7" fill="#fff" stroke="#000" stroke-width="1.9"/>
<circle cx="265.7" cy="982.3" r="6.7" fill="#fff" stroke="#000" stroke-width="1.9"/>
<circle cx="284.1" cy="1017.4" r="6.7" fill="#fff" stroke="#000" stroke-width="1.9"/>
<circle cx="302.5" cy="1022.1" r="6.7" fill="#fff" stroke="#000" stroke-width="1.9"/>
<circle cx="320.9" cy="984.2" r="6.7" fill="#fff" stroke="#000" stroke-width="1.9"/>
<circle cx="339.3" cy="946.8" r="6.7" fill="#fff" stroke="#000" stroke-width="1.9"/>
<circle cx="357.7" cy="998.4" r="6.7" fill="#fff" stroke="#000" stroke-width="1.9"/>
<circle cx="376.1" cy="1039.2" r="6.7" fill="#fff" stroke="#000" stroke-width="1.9"/>
<circle cx="394.5" cy="1019.7" r="6.7" fill="#fff" stroke="#000" stroke-width="1.9"/>
<circle cx="412.9" cy="1055.3" r="6.7" fill="#fff" stroke="#000" stroke-width="1.9"/>
<circle cx="431.3" cy="1067.8" r="6.7" fill="#fff" stroke="#000" stroke-width="1.9"/>
<circle cx="449.7" cy="1047.0" r="6.7" fill="#fff" stroke="#000" stroke-width="1.9"/>
<circle cx="468.1" cy="1073.7" r="6.7" fill="#fff" stroke="#000" stroke-width="1.9"/>
<circle cx="486.5" cy="1067.1" r="6.7" fill="#fff" stroke="#000" stroke-width="1.9"/>
<circle cx="504.9" cy="1044.6" r="6.7" fill="#fff" stroke="#000" stroke-width="1.9"/>
<circle cx="523.3" cy="1071.9" r="6.7" fill="#fff" stroke="#000" stroke-width="1.9"/>
<circle cx="541.7" cy="1060.5" r="6.7" fill="#fff" stroke="#000" stroke-width="1.9"/>
<circle cx="560.1" cy="1047.0" r="6.7" fill="#fff" stroke="#000" stroke-width="1.9"/>
<circle cx="578.5" cy="1022.6" r="6.7" fill="#fff" stroke="#000" stroke-width="1.9"/>
<path d="M155.3,957.5 L173.7,919.1 L192.1,1023.3 L210.5,1026.8 L228.9,1000.8 L247.3,1032.8 L265.7,1030.4 L284.1,1066.6 L302.5,1031.6 L320.9,1009.1 L339.3,966.5 L357.7,955.8 L376.1,986.6 L394.5,1063.1 L412.9,1029.2 L431.3,1038.2 L449.7,1071.4 L468.1,1041.8 L486.5,1065.9 L504.9,1068.3 L523.3,1060.0 L541.7,1069.5 L560.1,1028.0 L578.5,1032.8" fill="none" stroke="#000" stroke-width="1.85"/>
<path d="M155.3,945.5V969.5M152.4,945.5H158.2M152.4,969.5H158.2" stroke="#000" stroke-width="2.0" fill="none"/>
<path d="M173.7,909.6V928.6M170.8,909.6H176.6M170.8,928.6H176.6" stroke="#000" stroke-width="2.0" fill="none"/>
<path d="M192.1,1009.3V1037.3M189.2,1009.3H195.0M189.2,1037.3H195.0" stroke="#000" stroke-width="2.0" fill="none"/>
<path d="M210.5,1012.8V1040.8M207.6,1012.8H213.4M207.6,1040.8H213.4" stroke="#000" stroke-width="2.0" fill="none"/>
<path d="M228.9,984.8V1016.8M226.0,984.8H231.8M226.0,1016.8H231.8" stroke="#000" stroke-width="2.0" fill="none"/>
<path d="M247.3,1016.8V1048.8M244.4,1016.8H250.2M244.4,1048.8H250.2" stroke="#000" stroke-width="2.0" fill="none"/>
<path d="M265.7,1018.9V1041.9M262.8,1018.9H268.6M262.8,1041.9H268.6" stroke="#000" stroke-width="2.0" fill="none"/>
<path d="M284.1,1051.6V1081.6M281.2,1051.6H287.0M281.2,1081.6H287.0" stroke="#000" stroke-width="2.0" fill="none"/>
<path d="M302.5,1022.6V1040.6M299.6,1022.6H305.4M299.6,1040.6H305.4" stroke="#000" stroke-width="2.0" fill="none"/>
<path d="M320.9,990.1V1028.1M318.0,990.1H323.8M318.0,1028.1H323.8" stroke="#000" stroke-width="2.0" fill="none"/>
<path d="M339.3,949.5V983.5M336.4,949.5H342.2M336.4,983.5H342.2" stroke="#000" stroke-width="2.0" fill="none"/>
<path d="M357.7,938.8V972.8M354.8,938.8H360.6M354.8,972.8H360.6" stroke="#000" stroke-width="2.0" fill="none"/>
<path d="M376.1,963.6V1009.6M373.2,963.6H379.0M373.2,1009.6H379.0" stroke="#000" stroke-width="2.0" fill="none"/>
<path d="M394.5,1051.1V1075.1M391.6,1051.1H397.4M391.6,1075.1H397.4" stroke="#000" stroke-width="2.0" fill="none"/>
<path d="M412.9,1019.2V1039.2M410.0,1019.2H415.8M410.0,1039.2H415.8" stroke="#000" stroke-width="2.0" fill="none"/>
<path d="M431.3,1024.2V1052.2M428.4,1024.2H434.2M428.4,1052.2H434.2" stroke="#000" stroke-width="2.0" fill="none"/>
<path d="M449.7,1062.4V1080.4M446.8,1062.4H452.6M446.8,1080.4H452.6" stroke="#000" stroke-width="2.0" fill="none"/>
<path d="M468.1,1022.3V1061.3M465.2,1022.3H471.0M465.2,1061.3H471.0" stroke="#000" stroke-width="2.0" fill="none"/>
<path d="M486.5,1049.9V1081.9M483.6,1049.9H489.4M483.6,1081.9H489.4" stroke="#000" stroke-width="2.0" fill="none"/>
<path d="M504.9,1053.3V1083.3M502.0,1053.3H507.8M502.0,1083.3H507.8" stroke="#000" stroke-width="2.0" fill="none"/>
<path d="M523.3,1042.0V1078.0M520.4,1042.0H526.2M520.4,1078.0H526.2" stroke="#000" stroke-width="2.0" fill="none"/>
<path d="M541.7,1050.0V1089.0M538.8,1050.0H544.6M538.8,1089.0H544.6" stroke="#000" stroke-width="2.0" fill="none"/>
<path d="M560.1,1016.0V1040.0M557.2,1016.0H563.0M557.2,1040.0H563.0" stroke="#000" stroke-width="2.0" fill="none"/>
<path d="M578.5,1016.8V1048.8M575.6,1016.8H581.4M575.6,1048.8H581.4" stroke="#000" stroke-width="2.0" fill="none"/>
<circle cx="155.3" cy="957.5" r="7.75" fill="#000"/>
<circle cx="173.7" cy="919.1" r="7.75" fill="#000"/>
<circle cx="192.1" cy="1023.3" r="7.75" fill="#000"/>
<circle cx="210.5" cy="1026.8" r="7.75" fill="#000"/>
<circle cx="228.9" cy="1000.8" r="7.75" fill="#000"/>
<circle cx="247.3" cy="1032.8" r="7.75" fill="#000"/>
<circle cx="265.7" cy="1030.4" r="7.75" fill="#000"/>
<circle cx="284.1" cy="1066.6" r="7.75" fill="#000"/>
<circle cx="302.5" cy="1031.6" r="7.75" fill="#000"/>
<circle cx="320.9" cy="1009.1" r="7.75" fill="#000"/>
<circle cx="339.3" cy="966.5" r="7.75" fill="#000"/>
<circle cx="357.7" cy="955.8" r="7.75" fill="#000"/>
<circle cx="376.1" cy="986.6" r="7.75" fill="#000"/>
<circle cx="394.5" cy="1063.1" r="7.75" fill="#000"/>
<circle cx="412.9" cy="1029.2" r="7.75" fill="#000"/>
<circle cx="431.3" cy="1038.2" r="7.75" fill="#000"/>
<circle cx="449.7" cy="1071.4" r="7.75" fill="#000"/>
<circle cx="468.1" cy="1041.8" r="7.75" fill="#000"/>
<circle cx="486.5" cy="1065.9" r="7.75" fill="#000"/>
<circle cx="504.9" cy="1068.3" r="7.75" fill="#000"/>
<circle cx="523.3" cy="1060.0" r="7.75" fill="#000"/>
<circle cx="541.7" cy="1069.5" r="7.75" fill="#000"/>
<circle cx="560.1" cy="1028.0" r="7.75" fill="#000"/>
<circle cx="578.5" cy="1032.8" r="7.75" fill="#000"/>
<text x="483.2" y="880.4" font-family="'Liberation Sans', Arial, sans-serif" font-size="32.3" text-anchor="start" >Wake</text>
<line x1="792.9" y1="143.2" x2="792.9" y2="440.8" stroke="#000" stroke-width="3.6" />
<line x1="785.0" y1="439.0" x2="794.7" y2="439.0" stroke="#000" stroke-width="3.6" />
<line x1="785.0" y1="365.5" x2="794.7" y2="365.5" stroke="#000" stroke-width="3.6" />
<line x1="785.0" y1="292.0" x2="794.7" y2="292.0" stroke="#000" stroke-width="3.6" />
<line x1="785.0" y1="218.5" x2="794.7" y2="218.5" stroke="#000" stroke-width="3.6" />
<line x1="785.0" y1="145.0" x2="794.7" y2="145.0" stroke="#000" stroke-width="3.6" />
<text x="776.2" y="452.0" font-family="'Liberation Sans', Arial, sans-serif" font-size="38.5" text-anchor="end" >0</text>
<text x="776.2" y="305.0" font-family="'Liberation Sans', Arial, sans-serif" font-size="38.5" text-anchor="end" >20</text>
<text x="776.2" y="158.0" font-family="'Liberation Sans', Arial, sans-serif" font-size="38.5" text-anchor="end" >40</text>
<rect x="810.6" y="420.1" width="214.7" height="16.9" fill="#000"/>
<rect x="1025.3" y="421.0" width="212.9" height="16.0" fill="#fff" stroke="#000" stroke-width="1.7"/>
<line x1="810.6" y1="439.2" x2="1239.1" y2="439.2" stroke="#000" stroke-width="3.6" />
<line x1="812.5" y1="439.2" x2="812.5" y2="453.2" stroke="#000" stroke-width="3.5" />
<line x1="830.2" y1="439.2" x2="830.2" y2="447.2" stroke="#000" stroke-width="3.5" />
<line x1="847.9" y1="439.2" x2="847.9" y2="447.2" stroke="#000" stroke-width="3.5" />
<line x1="865.5" y1="439.2" x2="865.5" y2="447.2" stroke="#000" stroke-width="3.5" />
<line x1="883.2" y1="439.2" x2="883.2" y2="447.2" stroke="#000" stroke-width="3.5" />
<line x1="900.9" y1="439.2" x2="900.9" y2="447.2" stroke="#000" stroke-width="3.5" />
<line x1="918.5" y1="439.2" x2="918.5" y2="453.2" stroke="#000" stroke-width="3.5" />
<line x1="936.2" y1="439.2" x2="936.2" y2="447.2" stroke="#000" stroke-width="3.5" />
<line x1="953.9" y1="439.2" x2="953.9" y2="447.2" stroke="#000" stroke-width="3.5" />
<line x1="971.6" y1="439.2" x2="971.6" y2="447.2" stroke="#000" stroke-width="3.5" />
<line x1="989.2" y1="439.2" x2="989.2" y2="447.2" stroke="#000" stroke-width="3.5" />
<line x1="1006.9" y1="439.2" x2="1006.9" y2="447.2" stroke="#000" stroke-width="3.5" />
<line x1="1024.6" y1="439.2" x2="1024.6" y2="453.2" stroke="#000" stroke-width="3.5" />
<line x1="1042.3" y1="439.2" x2="1042.3" y2="447.2" stroke="#000" stroke-width="3.5" />
<line x1="1060.0" y1="439.2" x2="1060.0" y2="447.2" stroke="#000" stroke-width="3.5" />
<line x1="1077.6" y1="439.2" x2="1077.6" y2="447.2" stroke="#000" stroke-width="3.5" />
<line x1="1095.3" y1="439.2" x2="1095.3" y2="447.2" stroke="#000" stroke-width="3.5" />
<line x1="1113.0" y1="439.2" x2="1113.0" y2="447.2" stroke="#000" stroke-width="3.5" />
<line x1="1130.7" y1="439.2" x2="1130.7" y2="453.2" stroke="#000" stroke-width="3.5" />
<line x1="1148.3" y1="439.2" x2="1148.3" y2="447.2" stroke="#000" stroke-width="3.5" />
<line x1="1166.0" y1="439.2" x2="1166.0" y2="447.2" stroke="#000" stroke-width="3.5" />
<line x1="1183.7" y1="439.2" x2="1183.7" y2="447.2" stroke="#000" stroke-width="3.5" />
<line x1="1201.3" y1="439.2" x2="1201.3" y2="447.2" stroke="#000" stroke-width="3.5" />
<line x1="1219.0" y1="439.2" x2="1219.0" y2="447.2" stroke="#000" stroke-width="3.5" />
<line x1="1236.7" y1="439.2" x2="1236.7" y2="453.2" stroke="#000" stroke-width="3.5" />
<path d="M822.1,351.1 L839.8,358.9 L857.4,291.4 L875.1,306.1 L892.7,330.2 L910.3,280.6 L928.0,280.6 L945.6,240.5 L963.3,280.6 L980.9,249.1 L998.6,281.1 L1016.2,265.1 L1033.9,200.0 L1051.5,213.5 L1069.2,214.2 L1086.8,201.2 L1104.4,222.1 L1122.1,189.7 L1139.7,225.8 L1157.4,183.5 L1175.0,195.1 L1192.7,209.8 L1210.3,228.7 L1228.0,232.3" fill="none" stroke="#000" stroke-width="1.85"/>
<path d="M822.1,340.1V362.1M819.2,340.1H825.0M819.2,362.1H825.0" stroke="#000" stroke-width="2.0" fill="none"/>
<path d="M839.8,343.9V373.9M836.9,343.9H842.7M836.9,373.9H842.7" stroke="#000" stroke-width="2.0" fill="none"/>
<path d="M857.4,279.4V303.4M854.5,279.4H860.3M854.5,303.4H860.3" stroke="#000" stroke-width="2.0" fill="none"/>
<path d="M875.1,284.1V328.1M872.2,284.1H878.0M872.2,328.1H878.0" stroke="#000" stroke-width="2.0" fill="none"/>
<path d="M892.7,308.2V352.2M889.8,308.2H895.6M889.8,352.2H895.6" stroke="#000" stroke-width="2.0" fill="none"/>
<path d="M910.3,260.6V300.6M907.4,260.6H913.2M907.4,300.6H913.2" stroke="#000" stroke-width="2.0" fill="none"/>
<path d="M928.0,247.6V313.6M925.1,247.6H930.9M925.1,313.6H930.9" stroke="#000" stroke-width="2.0" fill="none"/>
<path d="M945.6,224.5V256.5M942.7,224.5H948.5M942.7,256.5H948.5" stroke="#000" stroke-width="2.0" fill="none"/>
<path d="M963.3,249.6V311.6M960.4,249.6H966.2M960.4,311.6H966.2" stroke="#000" stroke-width="2.0" fill="none"/>
<path d="M980.9,228.6V269.6M978.0,228.6H983.8M978.0,269.6H983.8" stroke="#000" stroke-width="2.0" fill="none"/>
<path d="M998.6,269.1V293.1M995.7,269.1H1001.5M995.7,293.1H1001.5" stroke="#000" stroke-width="2.0" fill="none"/>
<path d="M1016.2,250.1V280.1M1013.3,250.1H1019.1M1013.3,280.1H1019.1" stroke="#000" stroke-width="2.0" fill="none"/>
<path d="M1033.9,186.0V214.0M1031.0,186.0H1036.8M1031.0,214.0H1036.8" stroke="#000" stroke-width="2.0" fill="none"/>
<path d="M1051.5,195.5V231.5M1048.6,195.5H1054.4M1048.6,231.5H1054.4" stroke="#000" stroke-width="2.0" fill="none"/>
<path d="M1069.2,200.0V228.4M1066.3,200.0H1072.1M1066.3,228.4H1072.1" stroke="#000" stroke-width="2.0" fill="none"/>
<path d="M1086.8,183.2V219.2M1083.9,183.2H1089.7M1083.9,219.2H1089.7" stroke="#000" stroke-width="2.0" fill="none"/>
<path d="M1104.4,202.1V242.1M1101.5,202.1H1107.3M1101.5,242.1H1107.3" stroke="#000" stroke-width="2.0" fill="none"/>
<path d="M1122.1,163.7V215.7M1119.2,163.7H1125.0M1119.2,215.7H1125.0" stroke="#000" stroke-width="2.0" fill="none"/>
<path d="M1139.7,201.8V249.8M1136.8,201.8H1142.6M1136.8,249.8H1142.6" stroke="#000" stroke-width="2.0" fill="none"/>
<path d="M1157.4,162.5V204.5M1154.5,162.5H1160.3M1154.5,204.5H1160.3" stroke="#000" stroke-width="2.0" fill="none"/>
<path d="M1175.0,173.1V217.1M1172.1,173.1H1177.9M1172.1,217.1H1177.9" stroke="#000" stroke-width="2.0" fill="none"/>
<path d="M1192.7,188.8V230.8M1189.8,188.8H1195.6M1189.8,230.8H1195.6" stroke="#000" stroke-width="2.0" fill="none"/>
<path d="M1210.3,212.7V244.7M1207.4,212.7H1213.2M1207.4,244.7H1213.2" stroke="#000" stroke-width="2.0" fill="none"/>
<path d="M1228.0,209.7V254.9M1225.1,209.7H1230.9M1225.1,254.9H1230.9" stroke="#000" stroke-width="2.0" fill="none"/>
<circle cx="822.1" cy="351.1" r="6.7" fill="#fff" stroke="#000" stroke-width="1.9"/>
<circle cx="839.8" cy="358.9" r="6.7" fill="#fff" stroke="#000" stroke-width="1.9"/>
<circle cx="857.4" cy="291.4" r="6.7" fill="#fff" stroke="#000" stroke-width="1.9"/>
<circle cx="875.1" cy="306.1" r="6.7" fill="#fff" stroke="#000" stroke-width="1.9"/>
<circle cx="892.7" cy="330.2" r="6.7" fill="#fff" stroke="#000" stroke-width="1.9"/>
<circle cx="910.3" cy="280.6" r="6.7" fill="#fff" stroke="#000" stroke-width="1.9"/>
<circle cx="928.0" cy="280.6" r="6.7" fill="#fff" stroke="#000" stroke-width="1.9"/>
<circle cx="945.6" cy="240.5" r="6.7" fill="#fff" stroke="#000" stroke-width="1.9"/>
<circle cx="963.3" cy="280.6" r="6.7" fill="#fff" stroke="#000" stroke-width="1.9"/>
<circle cx="980.9" cy="249.1" r="6.7" fill="#fff" stroke="#000" stroke-width="1.9"/>
<circle cx="998.6" cy="281.1" r="6.7" fill="#fff" stroke="#000" stroke-width="1.9"/>
<circle cx="1016.2" cy="265.1" r="6.7" fill="#fff" stroke="#000" stroke-width="1.9"/>
<circle cx="1033.9" cy="200.0" r="6.7" fill="#fff" stroke="#000" stroke-width="1.9"/>
<circle cx="1051.5" cy="213.5" r="6.7" fill="#fff" stroke="#000" stroke-width="1.9"/>
<circle cx="1069.2" cy="214.2" r="6.7" fill="#fff" stroke="#000" stroke-width="1.9"/>
<circle cx="1086.8" cy="201.2" r="6.7" fill="#fff" stroke="#000" stroke-width="1.9"/>
<circle cx="1104.4" cy="222.1" r="6.7" fill="#fff" stroke="#000" stroke-width="1.9"/>
<circle cx="1122.1" cy="189.7" r="6.7" fill="#fff" stroke="#000" stroke-width="1.9"/>
<circle cx="1139.7" cy="225.8" r="6.7" fill="#fff" stroke="#000" stroke-width="1.9"/>
<circle cx="1157.4" cy="183.5" r="6.7" fill="#fff" stroke="#000" stroke-width="1.9"/>
<circle cx="1175.0" cy="195.1" r="6.7" fill="#fff" stroke="#000" stroke-width="1.9"/>
<circle cx="1192.7" cy="209.8" r="6.7" fill="#fff" stroke="#000" stroke-width="1.9"/>
<circle cx="1210.3" cy="228.7" r="6.7" fill="#fff" stroke="#000" stroke-width="1.9"/>
<circle cx="1228.0" cy="232.3" r="6.7" fill="#fff" stroke="#000" stroke-width="1.9"/>
<path d="M822.1,319.6 L839.8,351.1 L857.4,260.7 L875.1,274.9 L892.7,326.5 L910.3,280.3 L928.0,223.3 L945.6,222.6 L963.3,243.5 L980.9,290.9 L998.6,296.5 L1016.2,277.4 L1033.9,218.9 L1051.5,226.3 L1069.2,204.1 L1086.8,196.3 L1104.4,220.9 L1122.1,202.3 L1139.7,185.3 L1157.4,188.6 L1175.0,200.5 L1192.7,210.2 L1210.3,200.7 L1228.0,244.7" fill="none" stroke="#000" stroke-width="1.85"/>
<path d="M822.1,300.6V338.6M819.2,300.6H825.0M819.2,338.6H825.0" stroke="#000" stroke-width="2.0" fill="none"/>
<path d="M839.8,324.1V378.1M836.9,324.1H842.7M836.9,378.1H842.7" stroke="#000" stroke-width="2.0" fill="none"/>
<path d="M857.4,228.7V292.7M854.5,228.7H860.3M854.5,292.7H860.3" stroke="#000" stroke-width="2.0" fill="none"/>
<path d="M875.1,262.9V286.9M872.2,262.9H878.0M872.2,286.9H878.0" stroke="#000" stroke-width="2.0" fill="none"/>
<path d="M892.7,306.5V346.5M889.8,306.5H895.6M889.8,346.5H895.6" stroke="#000" stroke-width="2.0" fill="none"/>
<path d="M910.3,244.3V316.3M907.4,244.3H913.2M907.4,316.3H913.2" stroke="#000" stroke-width="2.0" fill="none"/>
<path d="M928.0,209.3V237.3M925.1,209.3H930.9M925.1,237.3H930.9" stroke="#000" stroke-width="2.0" fill="none"/>
<path d="M945.6,195.6V249.6M942.7,195.6H948.5M942.7,249.6H948.5" stroke="#000" stroke-width="2.0" fill="none"/>
<path d="M963.3,220.5V266.5M960.4,220.5H966.2M960.4,266.5H966.2" stroke="#000" stroke-width="2.0" fill="none"/>
<path d="M980.9,268.4V313.4M978.0,268.4H983.8M978.0,313.4H983.8" stroke="#000" stroke-width="2.0" fill="none"/>
<path d="M998.6,272.5V320.5M995.7,272.5H1001.5M995.7,320.5H1001.5" stroke="#000" stroke-width="2.0" fill="none"/>
<path d="M1016.2,243.4V311.4M1013.3,243.4H1019.1M1013.3,311.4H1019.1" stroke="#000" stroke-width="2.0" fill="none"/>
<path d="M1033.9,200.9V236.9M1031.0,200.9H1036.8M1031.0,236.9H1036.8" stroke="#000" stroke-width="2.0" fill="none"/>
<path d="M1051.5,212.3V240.3M1048.6,212.3H1054.4M1048.6,240.3H1054.4" stroke="#000" stroke-width="2.0" fill="none"/>
<path d="M1069.2,186.8V221.4M1066.3,186.8H1072.1M1066.3,221.4H1072.1" stroke="#000" stroke-width="2.0" fill="none"/>
<path d="M1086.8,171.8V220.8M1083.9,171.8H1089.7M1083.9,220.8H1089.7" stroke="#000" stroke-width="2.0" fill="none"/>
<path d="M1104.4,197.9V243.9M1101.5,197.9H1107.3M1101.5,243.9H1107.3" stroke="#000" stroke-width="2.0" fill="none"/>
<path d="M1122.1,183.9V220.7M1119.2,183.9H1125.0M1119.2,220.7H1125.0" stroke="#000" stroke-width="2.0" fill="none"/>
<path d="M1139.7,160.3V210.3M1136.8,160.3H1142.6M1136.8,210.3H1142.6" stroke="#000" stroke-width="2.0" fill="none"/>
<path d="M1157.4,172.0V205.2M1154.5,172.0H1160.3M1154.5,205.2H1160.3" stroke="#000" stroke-width="2.0" fill="none"/>
<path d="M1175.0,180.5V220.5M1172.1,180.5H1177.9M1172.1,220.5H1177.9" stroke="#000" stroke-width="2.0" fill="none"/>
<path d="M1192.7,190.0V230.4M1189.8,190.0H1195.6M1189.8,230.4H1195.6" stroke="#000" stroke-width="2.0" fill="none"/>
<path d="M1210.3,177.7V223.7M1207.4,177.7H1213.2M1207.4,223.7H1213.2" stroke="#000" stroke-width="2.0" fill="none"/>
<path d="M1228.0,233.7V255.7M1225.1,233.7H1230.9M1225.1,255.7H1230.9" stroke="#000" stroke-width="2.0" fill="none"/>
<circle cx="822.1" cy="319.6" r="7.75" fill="#000"/>
<circle cx="839.8" cy="351.1" r="7.75" fill="#000"/>
<circle cx="857.4" cy="260.7" r="7.75" fill="#000"/>
<circle cx="875.1" cy="274.9" r="7.75" fill="#000"/>
<circle cx="892.7" cy="326.5" r="7.75" fill="#000"/>
<circle cx="910.3" cy="280.3" r="7.75" fill="#000"/>
<circle cx="928.0" cy="223.3" r="7.75" fill="#000"/>
<circle cx="945.6" cy="222.6" r="7.75" fill="#000"/>
<circle cx="963.3" cy="243.5" r="7.75" fill="#000"/>
<circle cx="980.9" cy="290.9" r="7.75" fill="#000"/>
<circle cx="998.6" cy="296.5" r="7.75" fill="#000"/>
<circle cx="1016.2" cy="277.4" r="7.75" fill="#000"/>
<circle cx="1033.9" cy="218.9" r="7.75" fill="#000"/>
<circle cx="1051.5" cy="226.3" r="7.75" fill="#000"/>
<circle cx="1069.2" cy="204.1" r="7.75" fill="#000"/>
<circle cx="1086.8" cy="196.3" r="7.75" fill="#000"/>
<circle cx="1104.4" cy="220.9" r="7.75" fill="#000"/>
<circle cx="1122.1" cy="202.3" r="7.75" fill="#000"/>
<circle cx="1139.7" cy="185.3" r="7.75" fill="#000"/>
<circle cx="1157.4" cy="188.6" r="7.75" fill="#000"/>
<circle cx="1175.0" cy="200.5" r="7.75" fill="#000"/>
<circle cx="1192.7" cy="210.2" r="7.75" fill="#000"/>
<circle cx="1210.3" cy="200.7" r="7.75" fill="#000"/>
<circle cx="1228.0" cy="244.7" r="7.75" fill="#000"/>
<text x="1127.5" y="104.2" font-family="'Liberation Sans', Arial, sans-serif" font-size="32.3" text-anchor="start" >NREM</text>
<line x1="792.9" y1="507.1" x2="792.9" y2="772.3" stroke="#000" stroke-width="3.6" />
<line x1="785.2" y1="770.5" x2="794.7" y2="770.5" stroke="#000" stroke-width="3.6" />
<line x1="785.2" y1="639.7" x2="794.7" y2="639.7" stroke="#000" stroke-width="3.6" />
<line x1="785.2" y1="508.9" x2="794.7" y2="508.9" stroke="#000" stroke-width="3.6" />
<text x="776.1" y="782.4" font-family="'Liberation Sans', Arial, sans-serif" font-size="38.5" text-anchor="end" >0</text>
<text x="776.1" y="651.6" font-family="'Liberation Sans', Arial, sans-serif" font-size="38.5" text-anchor="end" >4</text>
<text x="776.1" y="520.8" font-family="'Liberation Sans', Arial, sans-serif" font-size="38.5" text-anchor="end" >8</text>
<rect x="809.5" y="785.2" width="213.4" height="16.2" fill="#000"/>
<rect x="1022.9" y="786.1" width="212.0" height="15.3" fill="#fff" stroke="#000" stroke-width="1.7"/>
<line x1="809.5" y1="803.5" x2="1235.8" y2="803.5" stroke="#000" stroke-width="3.6" />
<line x1="810.4" y1="803.5" x2="810.4" y2="817.6" stroke="#000" stroke-width="3.5" />
<line x1="828.0" y1="803.5" x2="828.0" y2="811.5" stroke="#000" stroke-width="3.5" />
<line x1="845.7" y1="803.5" x2="845.7" y2="811.5" stroke="#000" stroke-width="3.5" />
<line x1="863.4" y1="803.5" x2="863.4" y2="811.5" stroke="#000" stroke-width="3.5" />
<line x1="881.0" y1="803.5" x2="881.0" y2="811.5" stroke="#000" stroke-width="3.5" />
<line x1="898.6" y1="803.5" x2="898.6" y2="811.5" stroke="#000" stroke-width="3.5" />
<line x1="916.3" y1="803.5" x2="916.3" y2="817.6" stroke="#000" stroke-width="3.5" />
<line x1="933.9" y1="803.5" x2="933.9" y2="811.5" stroke="#000" stroke-width="3.5" />
<line x1="951.6" y1="803.5" x2="951.6" y2="811.5" stroke="#000" stroke-width="3.5" />
<line x1="969.2" y1="803.5" x2="969.2" y2="811.5" stroke="#000" stroke-width="3.5" />
<line x1="986.9" y1="803.5" x2="986.9" y2="811.5" stroke="#000" stroke-width="3.5" />
<line x1="1004.5" y1="803.5" x2="1004.5" y2="811.5" stroke="#000" stroke-width="3.5" />
<line x1="1022.2" y1="803.5" x2="1022.2" y2="817.6" stroke="#000" stroke-width="3.5" />
<line x1="1039.8" y1="803.5" x2="1039.8" y2="811.5" stroke="#000" stroke-width="3.5" />
<line x1="1057.5" y1="803.5" x2="1057.5" y2="811.5" stroke="#000" stroke-width="3.5" />
<line x1="1075.2" y1="803.5" x2="1075.2" y2="811.5" stroke="#000" stroke-width="3.5" />
<line x1="1092.8" y1="803.5" x2="1092.8" y2="811.5" stroke="#000" stroke-width="3.5" />
<line x1="1110.4" y1="803.5" x2="1110.4" y2="811.5" stroke="#000" stroke-width="3.5" />
<line x1="1128.1" y1="803.5" x2="1128.1" y2="817.6" stroke="#000" stroke-width="3.5" />
<line x1="1145.8" y1="803.5" x2="1145.8" y2="811.5" stroke="#000" stroke-width="3.5" />
<line x1="1163.4" y1="803.5" x2="1163.4" y2="811.5" stroke="#000" stroke-width="3.5" />
<line x1="1181.0" y1="803.5" x2="1181.0" y2="811.5" stroke="#000" stroke-width="3.5" />
<line x1="1198.7" y1="803.5" x2="1198.7" y2="811.5" stroke="#000" stroke-width="3.5" />
<line x1="1216.3" y1="803.5" x2="1216.3" y2="811.5" stroke="#000" stroke-width="3.5" />
<line x1="1234.0" y1="803.5" x2="1234.0" y2="817.6" stroke="#000" stroke-width="3.5" />
<path d="M819.5,734.4 L837.2,745.7 L854.9,723.0 L872.5,720.2 L890.2,728.7 L907.9,698.8 L925.6,721.0 L943.2,696.0 L960.9,727.3 L978.6,688.9 L996.2,706.5 L1013.9,647.4 L1031.6,618.4 L1049.2,625.6 L1066.9,635.1 L1084.6,646.4 L1102.3,636.8 L1119.9,613.6 L1137.6,632.6 L1155.3,553.6 L1172.9,599.0 L1190.6,564.1 L1208.3,636.3 L1225.9,596.2" fill="none" stroke="#000" stroke-width="1.85"/>
<path d="M819.5,715.4V753.4M816.6,715.4H822.4M816.6,753.4H822.4" stroke="#000" stroke-width="2.0" fill="none"/>
<path d="M837.2,729.7V761.7M834.3,729.7H840.1M834.3,761.7H840.1" stroke="#000" stroke-width="2.0" fill="none"/>
<path d="M854.9,698.6V747.4M852.0,698.6H857.8M852.0,747.4H857.8" stroke="#000" stroke-width="2.0" fill="none"/>
<path d="M872.5,702.9V737.5M869.6,702.9H875.4M869.6,737.5H875.4" stroke="#000" stroke-width="2.0" fill="none"/>
<path d="M890.2,702.0V755.4M887.3,702.0H893.1M887.3,755.4H893.1" stroke="#000" stroke-width="2.0" fill="none"/>
<path d="M907.9,671.8V725.8M905.0,671.8H910.8M905.0,725.8H910.8" stroke="#000" stroke-width="2.0" fill="none"/>
<path d="M925.6,698.3V743.7M922.7,698.3H928.5M922.7,743.7H928.5" stroke="#000" stroke-width="2.0" fill="none"/>
<path d="M943.2,669.0V723.0M940.3,669.0H946.1M940.3,723.0H946.1" stroke="#000" stroke-width="2.0" fill="none"/>
<path d="M960.9,708.8V745.8M958.0,708.8H963.8M958.0,745.8H963.8" stroke="#000" stroke-width="2.0" fill="none"/>
<path d="M978.6,673.9V703.9M975.7,673.9H981.5M975.7,703.9H981.5" stroke="#000" stroke-width="2.0" fill="none"/>
<path d="M996.2,679.5V733.5M993.3,679.5H999.1M993.3,733.5H999.1" stroke="#000" stroke-width="2.0" fill="none"/>
<path d="M1013.9,608.4V686.4M1011.0,608.4H1016.8M1011.0,686.4H1016.8" stroke="#000" stroke-width="2.0" fill="none"/>
<path d="M1031.6,579.4V657.4M1028.7,579.4H1034.5M1028.7,657.4H1034.5" stroke="#000" stroke-width="2.0" fill="none"/>
<path d="M1049.2,588.6V662.6M1046.3,588.6H1052.1M1046.3,662.6H1052.1" stroke="#000" stroke-width="2.0" fill="none"/>
<path d="M1066.9,599.1V671.1M1064.0,599.1H1069.8M1064.0,671.1H1069.8" stroke="#000" stroke-width="2.0" fill="none"/>
<path d="M1084.6,622.4V670.4M1081.7,622.4H1087.5M1081.7,670.4H1087.5" stroke="#000" stroke-width="2.0" fill="none"/>
<path d="M1102.3,615.8V657.8M1099.4,615.8H1105.2M1099.4,657.8H1105.2" stroke="#000" stroke-width="2.0" fill="none"/>
<path d="M1119.9,575.6V651.6M1117.0,575.6H1122.8M1117.0,651.6H1122.8" stroke="#000" stroke-width="2.0" fill="none"/>
<path d="M1137.6,598.6V666.6M1134.7,598.6H1140.5M1134.7,666.6H1140.5" stroke="#000" stroke-width="2.0" fill="none"/>
<path d="M1155.3,515.6V591.6M1152.4,515.6H1158.2M1152.4,591.6H1158.2" stroke="#000" stroke-width="2.0" fill="none"/>
<path d="M1172.9,571.5V626.5M1170.0,571.5H1175.8M1170.0,626.5H1175.8" stroke="#000" stroke-width="2.0" fill="none"/>
<path d="M1190.6,525.6V602.6M1187.7,525.6H1193.5M1187.7,602.6H1193.5" stroke="#000" stroke-width="2.0" fill="none"/>
<path d="M1208.3,603.3V669.3M1205.4,603.3H1211.2M1205.4,669.3H1211.2" stroke="#000" stroke-width="2.0" fill="none"/>
<path d="M1225.9,553.2V639.2M1223.0,553.2H1228.8M1223.0,639.2H1228.8" stroke="#000" stroke-width="2.0" fill="none"/>
<circle cx="819.5" cy="734.4" r="6.7" fill="#fff" stroke="#000" stroke-width="1.9"/>
<circle cx="837.2" cy="745.7" r="6.7" fill="#fff" stroke="#000" stroke-width="1.9"/>
<circle cx="854.9" cy="723.0" r="6.7" fill="#fff" stroke="#000" stroke-width="1.9"/>
<circle cx="872.5" cy="720.2" r="6.7" fill="#fff" stroke="#000" stroke-width="1.9"/>
<circle cx="890.2" cy="728.7" r="6.7" fill="#fff" stroke="#000" stroke-width="1.9"/>
<circle cx="907.9" cy="698.8" r="6.7" fill="#fff" stroke="#000" stroke-width="1.9"/>
<circle cx="925.6" cy="721.0" r="6.7" fill="#fff" stroke="#000" stroke-width="1.9"/>
<circle cx="943.2" cy="696.0" r="6.7" fill="#fff" stroke="#000" stroke-width="1.9"/>
<circle cx="960.9" cy="727.3" r="6.7" fill="#fff" stroke="#000" stroke-width="1.9"/>
<circle cx="978.6" cy="688.9" r="6.7" fill="#fff" stroke="#000" stroke-width="1.9"/>
<circle cx="996.2" cy="706.5" r="6.7" fill="#fff" stroke="#000" stroke-width="1.9"/>
<circle cx="1013.9" cy="647.4" r="6.7" fill="#fff" stroke="#000" stroke-width="1.9"/>
<circle cx="1031.6" cy="618.4" r="6.7" fill="#fff" stroke="#000" stroke-width="1.9"/>
<circle cx="1049.2" cy="625.6" r="6.7" fill="#fff" stroke="#000" stroke-width="1.9"/>
<circle cx="1066.9" cy="635.1" r="6.7" fill="#fff" stroke="#000" stroke-width="1.9"/>
<circle cx="1084.6" cy="646.4" r="6.7" fill="#fff" stroke="#000" stroke-width="1.9"/>
<circle cx="1102.3" cy="636.8" r="6.7" fill="#fff" stroke="#000" stroke-width="1.9"/>
<circle cx="1119.9" cy="613.6" r="6.7" fill="#fff" stroke="#000" stroke-width="1.9"/>
<circle cx="1137.6" cy="632.6" r="6.7" fill="#fff" stroke="#000" stroke-width="1.9"/>
<circle cx="1155.3" cy="553.6" r="6.7" fill="#fff" stroke="#000" stroke-width="1.9"/>
<circle cx="1172.9" cy="599.0" r="6.7" fill="#fff" stroke="#000" stroke-width="1.9"/>
<circle cx="1190.6" cy="564.1" r="6.7" fill="#fff" stroke="#000" stroke-width="1.9"/>
<circle cx="1208.3" cy="636.3" r="6.7" fill="#fff" stroke="#000" stroke-width="1.9"/>
<circle cx="1225.9" cy="596.2" r="6.7" fill="#fff" stroke="#000" stroke-width="1.9"/>
<path d="M819.5,707.4 L837.2,745.2 L854.9,771.3 L872.5,771.3 L890.2,754.3 L907.9,748.0 L925.6,718.2 L943.2,666.2 L960.9,695.4 L978.6,688.9 L996.2,698.3 L1013.9,681.8 L1031.6,679.0 L1049.2,641.4 L1066.9,598.0 L1084.6,620.3 L1102.3,602.8 L1119.9,589.4 L1137.6,611.3 L1155.3,571.2 L1172.9,584.4 L1190.6,587.9 L1208.3,617.8 L1225.9,625.6" fill="none" stroke="#000" stroke-width="1.85"/>
<path d="M819.5,682.4V732.4M816.6,682.4H822.4M816.6,732.4H822.4" stroke="#000" stroke-width="2.0" fill="none"/>
<path d="M837.2,728.2V762.2M834.3,728.2H840.1M834.3,762.2H840.1" stroke="#000" stroke-width="2.0" fill="none"/>
<path d="M890.2,737.3V771.3M887.3,737.3H893.1M887.3,771.3H893.1" stroke="#000" stroke-width="2.0" fill="none"/>
<path d="M907.9,734.0V762.0M905.0,734.0H910.8M905.0,762.0H910.8" stroke="#000" stroke-width="2.0" fill="none"/>
<path d="M925.6,696.2V740.2M922.7,696.2H928.5M922.7,740.2H928.5" stroke="#000" stroke-width="2.0" fill="none"/>
<path d="M943.2,638.2V694.2M940.3,638.2H946.1M940.3,694.2H946.1" stroke="#000" stroke-width="2.0" fill="none"/>
<path d="M960.9,672.4V718.4M958.0,672.4H963.8M958.0,718.4H963.8" stroke="#000" stroke-width="2.0" fill="none"/>
<path d="M978.6,665.9V711.9M975.7,665.9H981.5M975.7,711.9H981.5" stroke="#000" stroke-width="2.0" fill="none"/>
<path d="M996.2,668.3V728.3M993.3,668.3H999.1M993.3,728.3H999.1" stroke="#000" stroke-width="2.0" fill="none"/>
<path d="M1013.9,656.2V707.4M1011.0,656.2H1016.8M1011.0,707.4H1016.8" stroke="#000" stroke-width="2.0" fill="none"/>
<path d="M1031.6,660.0V698.0M1028.7,660.0H1034.5M1028.7,698.0H1034.5" stroke="#000" stroke-width="2.0" fill="none"/>
<path d="M1049.2,612.4V670.4M1046.3,612.4H1052.1M1046.3,670.4H1052.1" stroke="#000" stroke-width="2.0" fill="none"/>
<path d="M1066.9,564.0V632.0M1064.0,564.0H1069.8M1064.0,632.0H1069.8" stroke="#000" stroke-width="2.0" fill="none"/>
<path d="M1084.6,589.0V651.6M1081.7,589.0H1087.5M1081.7,651.6H1087.5" stroke="#000" stroke-width="2.0" fill="none"/>
<path d="M1102.3,562.8V642.8M1099.4,562.8H1105.2M1099.4,642.8H1105.2" stroke="#000" stroke-width="2.0" fill="none"/>
<path d="M1119.9,559.4V619.4M1117.0,559.4H1122.8M1117.0,619.4H1122.8" stroke="#000" stroke-width="2.0" fill="none"/>
<path d="M1137.6,587.3V635.3M1134.7,587.3H1140.5M1134.7,635.3H1140.5" stroke="#000" stroke-width="2.0" fill="none"/>
<path d="M1155.3,535.7V606.7M1152.4,535.7H1158.2M1152.4,606.7H1158.2" stroke="#000" stroke-width="2.0" fill="none"/>
<path d="M1172.9,548.9V619.9M1170.0,548.9H1175.8M1170.0,619.9H1175.8" stroke="#000" stroke-width="2.0" fill="none"/>
<path d="M1190.6,554.9V620.9M1187.7,554.9H1193.5M1187.7,620.9H1193.5" stroke="#000" stroke-width="2.0" fill="none"/>
<path d="M1208.3,581.8V653.8M1205.4,581.8H1211.2M1205.4,653.8H1211.2" stroke="#000" stroke-width="2.0" fill="none"/>
<path d="M1225.9,591.6V659.6M1223.0,591.6H1228.8M1223.0,659.6H1228.8" stroke="#000" stroke-width="2.0" fill="none"/>
<circle cx="819.5" cy="707.4" r="7.75" fill="#000"/>
<circle cx="837.2" cy="745.2" r="7.75" fill="#000"/>
<circle cx="854.9" cy="771.3" r="7.75" fill="#000"/>
<circle cx="872.5" cy="771.3" r="7.75" fill="#000"/>
<circle cx="890.2" cy="754.3" r="7.75" fill="#000"/>
<circle cx="907.9" cy="748.0" r="7.75" fill="#000"/>
<circle cx="925.6" cy="718.2" r="7.75" fill="#000"/>
<circle cx="943.2" cy="666.2" r="7.75" fill="#000"/>
<circle cx="960.9" cy="695.4" r="7.75" fill="#000"/>
<circle cx="978.6" cy="688.9" r="7.75" fill="#000"/>
<circle cx="996.2" cy="698.3" r="7.75" fill="#000"/>
<circle cx="1013.9" cy="681.8" r="7.75" fill="#000"/>
<circle cx="1031.6" cy="679.0" r="7.75" fill="#000"/>
<circle cx="1049.2" cy="641.4" r="7.75" fill="#000"/>
<circle cx="1066.9" cy="598.0" r="7.75" fill="#000"/>
<circle cx="1084.6" cy="620.3" r="7.75" fill="#000"/>
<circle cx="1102.3" cy="602.8" r="7.75" fill="#000"/>
<circle cx="1119.9" cy="589.4" r="7.75" fill="#000"/>
<circle cx="1137.6" cy="611.3" r="7.75" fill="#000"/>
<circle cx="1155.3" cy="571.2" r="7.75" fill="#000"/>
<circle cx="1172.9" cy="584.4" r="7.75" fill="#000"/>
<circle cx="1190.6" cy="587.9" r="7.75" fill="#000"/>
<circle cx="1208.3" cy="617.8" r="7.75" fill="#000"/>
<circle cx="1225.9" cy="625.6" r="7.75" fill="#000"/>
<text x="1127.7" y="500.0" font-family="'Liberation Sans', Arial, sans-serif" font-size="32.3" text-anchor="start" >REM</text>
<line x1="790.0" y1="878.5" x2="790.0" y2="1155.3" stroke="#000" stroke-width="3.6" />
<line x1="782.2" y1="1153.5" x2="791.8" y2="1153.5" stroke="#000" stroke-width="3.6" />
<line x1="782.2" y1="1062.4" x2="791.8" y2="1062.4" stroke="#000" stroke-width="3.6" />
<line x1="782.2" y1="971.4" x2="791.8" y2="971.4" stroke="#000" stroke-width="3.6" />
<line x1="782.2" y1="880.3" x2="791.8" y2="880.3" stroke="#000" stroke-width="3.6" />
<text x="776.2" y="1168.5" font-family="'Liberation Sans', Arial, sans-serif" font-size="38.5" text-anchor="end" >0</text>
<text x="776.2" y="1077.4" font-family="'Liberation Sans', Arial, sans-serif" font-size="38.5" text-anchor="end" >20</text>
<text x="776.2" y="986.4" font-family="'Liberation Sans', Arial, sans-serif" font-size="38.5" text-anchor="end" >40</text>
<text x="776.2" y="895.3" font-family="'Liberation Sans', Arial, sans-serif" font-size="38.5" text-anchor="end" >60</text>
<rect x="804.7" y="1135.6" width="214.3" height="16.0" fill="#000"/>
<rect x="1019.0" y="1136.4" width="211.7" height="15.2" fill="#fff" stroke="#000" stroke-width="1.7"/>
<line x1="804.7" y1="1153.6" x2="1231.8" y2="1153.6" stroke="#000" stroke-width="3.6" />
<line x1="805.3" y1="1153.6" x2="805.3" y2="1167.4" stroke="#000" stroke-width="3.5" />
<line x1="823.0" y1="1153.6" x2="823.0" y2="1161.4" stroke="#000" stroke-width="3.5" />
<line x1="840.7" y1="1153.6" x2="840.7" y2="1161.4" stroke="#000" stroke-width="3.5" />
<line x1="858.4" y1="1153.6" x2="858.4" y2="1161.4" stroke="#000" stroke-width="3.5" />
<line x1="876.1" y1="1153.6" x2="876.1" y2="1161.4" stroke="#000" stroke-width="3.5" />
<line x1="893.8" y1="1153.6" x2="893.8" y2="1161.4" stroke="#000" stroke-width="3.5" />
<line x1="911.5" y1="1153.6" x2="911.5" y2="1167.4" stroke="#000" stroke-width="3.5" />
<line x1="929.2" y1="1153.6" x2="929.2" y2="1161.4" stroke="#000" stroke-width="3.5" />
<line x1="946.9" y1="1153.6" x2="946.9" y2="1161.4" stroke="#000" stroke-width="3.5" />
<line x1="964.6" y1="1153.6" x2="964.6" y2="1161.4" stroke="#000" stroke-width="3.5" />
<line x1="982.3" y1="1153.6" x2="982.3" y2="1161.4" stroke="#000" stroke-width="3.5" />
<line x1="1000.0" y1="1153.6" x2="1000.0" y2="1161.4" stroke="#000" stroke-width="3.5" />
<line x1="1017.7" y1="1153.6" x2="1017.7" y2="1167.4" stroke="#000" stroke-width="3.5" />
<line x1="1035.4" y1="1153.6" x2="1035.4" y2="1161.4" stroke="#000" stroke-width="3.5" />
<line x1="1053.1" y1="1153.6" x2="1053.1" y2="1161.4" stroke="#000" stroke-width="3.5" />
<line x1="1070.8" y1="1153.6" x2="1070.8" y2="1161.4" stroke="#000" stroke-width="3.5" />
<line x1="1088.5" y1="1153.6" x2="1088.5" y2="1161.4" stroke="#000" stroke-width="3.5" />
<line x1="1106.2" y1="1153.6" x2="1106.2" y2="1161.4" stroke="#000" stroke-width="3.5" />
<line x1="1123.9" y1="1153.6" x2="1123.9" y2="1167.4" stroke="#000" stroke-width="3.5" />
<line x1="1141.6" y1="1153.6" x2="1141.6" y2="1161.4" stroke="#000" stroke-width="3.5" />
<line x1="1159.3" y1="1153.6" x2="1159.3" y2="1161.4" stroke="#000" stroke-width="3.5" />
<line x1="1177.0" y1="1153.6" x2="1177.0" y2="1161.4" stroke="#000" stroke-width="3.5" />
<line x1="1194.7" y1="1153.6" x2="1194.7" y2="1161.4" stroke="#000" stroke-width="3.5" />
<line x1="1212.4" y1="1153.6" x2="1212.4" y2="1161.4" stroke="#000" stroke-width="3.5" />
<line x1="1230.1" y1="1153.6" x2="1230.1" y2="1167.4" stroke="#000" stroke-width="3.5" />
<path d="M814.6,940.9 L832.3,935.3 L850.0,979.3 L867.8,970.2 L885.4,952.9 L903.1,989.3 L920.8,986.4 L938.5,1014.3 L956.2,985.0 L973.9,1010.6 L991.6,988.7 L1009.3,1005.7 L1027.0,1050.4 L1044.8,1041.0 L1062.4,1040.4 L1080.1,1044.7 L1097.8,1035.3 L1115.5,1057.5 L1133.2,1031.9 L1150.9,1069.4 L1168.6,1054.5 L1186.3,1052.4 L1204.0,1029.6 L1221.8,1033.3" fill="none" stroke="#000" stroke-width="1.85"/>
<path d="M814.6,930.9V950.9M811.8,930.9H817.5M811.8,950.9H817.5" stroke="#000" stroke-width="2.0" fill="none"/>
<path d="M832.3,921.3V949.3M829.4,921.3H835.2M829.4,949.3H835.2" stroke="#000" stroke-width="2.0" fill="none"/>
<path d="M850.0,971.3V987.3M847.1,971.3H852.9M847.1,987.3H852.9" stroke="#000" stroke-width="2.0" fill="none"/>
<path d="M867.8,957.2V983.2M864.9,957.2H870.6M864.9,983.2H870.6" stroke="#000" stroke-width="2.0" fill="none"/>
<path d="M885.4,934.9V970.9M882.5,934.9H888.3M882.5,970.9H888.3" stroke="#000" stroke-width="2.0" fill="none"/>
<path d="M903.1,973.3V1005.3M900.2,973.3H906.0M900.2,1005.3H906.0" stroke="#000" stroke-width="2.0" fill="none"/>
<path d="M920.8,964.4V1008.4M917.9,964.4H923.7M917.9,1008.4H923.7" stroke="#000" stroke-width="2.0" fill="none"/>
<path d="M938.5,1004.3V1024.3M935.6,1004.3H941.4M935.6,1024.3H941.4" stroke="#000" stroke-width="2.0" fill="none"/>
<path d="M956.2,965.0V1005.0M953.4,965.0H959.1M953.4,1005.0H959.1" stroke="#000" stroke-width="2.0" fill="none"/>
<path d="M973.9,997.6V1023.6M971.0,997.6H976.8M971.0,1023.6H976.8" stroke="#000" stroke-width="2.0" fill="none"/>
<path d="M991.6,968.7V1008.7M988.8,968.7H994.5M988.8,1008.7H994.5" stroke="#000" stroke-width="2.0" fill="none"/>
<path d="M1009.3,984.7V1026.7M1006.4,984.7H1012.2M1006.4,1026.7H1012.2" stroke="#000" stroke-width="2.0" fill="none"/>
<path d="M1027.0,1041.4V1059.4M1024.1,1041.4H1030.0M1024.1,1059.4H1030.0" stroke="#000" stroke-width="2.0" fill="none"/>
<path d="M1044.8,1030.0V1052.0M1041.8,1030.0H1047.7M1041.8,1052.0H1047.7" stroke="#000" stroke-width="2.0" fill="none"/>
<path d="M1062.4,1026.4V1054.4M1059.5,1026.4H1065.3M1059.5,1054.4H1065.3" stroke="#000" stroke-width="2.0" fill="none"/>
<path d="M1080.1,1034.7V1054.7M1077.2,1034.7H1083.0M1077.2,1054.7H1083.0" stroke="#000" stroke-width="2.0" fill="none"/>
<path d="M1097.8,1021.3V1049.3M1094.9,1021.3H1100.8M1094.9,1049.3H1100.8" stroke="#000" stroke-width="2.0" fill="none"/>
<path d="M1115.5,1039.5V1075.5M1112.6,1039.5H1118.5M1112.6,1075.5H1118.5" stroke="#000" stroke-width="2.0" fill="none"/>
<path d="M1133.2,1014.9V1048.9M1130.3,1014.9H1136.2M1130.3,1048.9H1136.2" stroke="#000" stroke-width="2.0" fill="none"/>
<path d="M1150.9,1053.4V1085.4M1148.0,1053.4H1153.8M1148.0,1085.4H1153.8" stroke="#000" stroke-width="2.0" fill="none"/>
<path d="M1168.6,1044.5V1064.5M1165.7,1044.5H1171.5M1165.7,1064.5H1171.5" stroke="#000" stroke-width="2.0" fill="none"/>
<path d="M1186.3,1042.4V1062.4M1183.4,1042.4H1189.2M1183.4,1062.4H1189.2" stroke="#000" stroke-width="2.0" fill="none"/>
<path d="M1204.0,1017.6V1041.6M1201.1,1017.6H1207.0M1201.1,1041.6H1207.0" stroke="#000" stroke-width="2.0" fill="none"/>
<path d="M1221.8,1019.3V1047.3M1218.8,1019.3H1224.7M1218.8,1047.3H1224.7" stroke="#000" stroke-width="2.0" fill="none"/>
<circle cx="814.6" cy="940.9" r="6.7" fill="#fff" stroke="#000" stroke-width="1.9"/>
<circle cx="832.3" cy="935.3" r="6.7" fill="#fff" stroke="#000" stroke-width="1.9"/>
<circle cx="850.0" cy="979.3" r="6.7" fill="#fff" stroke="#000" stroke-width="1.9"/>
<circle cx="867.8" cy="970.2" r="6.7" fill="#fff" stroke="#000" stroke-width="1.9"/>
<circle cx="885.4" cy="952.9" r="6.7" fill="#fff" stroke="#000" stroke-width="1.9"/>
<circle cx="903.1" cy="989.3" r="6.7" fill="#fff" stroke="#000" stroke-width="1.9"/>
<circle cx="920.8" cy="986.4" r="6.7" fill="#fff" stroke="#000" stroke-width="1.9"/>
<circle cx="938.5" cy="1014.3" r="6.7" fill="#fff" stroke="#000" stroke-width="1.9"/>
<circle cx="956.2" cy="985.0" r="6.7" fill="#fff" stroke="#000" stroke-width="1.9"/>
<circle cx="973.9" cy="1010.6" r="6.7" fill="#fff" stroke="#000" stroke-width="1.9"/>
<circle cx="991.6" cy="988.7" r="6.7" fill="#fff" stroke="#000" stroke-width="1.9"/>
<circle cx="1009.3" cy="1005.7" r="6.7" fill="#fff" stroke="#000" stroke-width="1.9"/>
<circle cx="1027.0" cy="1050.4" r="6.7" fill="#fff" stroke="#000" stroke-width="1.9"/>
<circle cx="1044.8" cy="1041.0" r="6.7" fill="#fff" stroke="#000" stroke-width="1.9"/>
<circle cx="1062.4" cy="1040.4" r="6.7" fill="#fff" stroke="#000" stroke-width="1.9"/>
<circle cx="1080.1" cy="1044.7" r="6.7" fill="#fff" stroke="#000" stroke-width="1.9"/>
<circle cx="1097.8" cy="1035.3" r="6.7" fill="#fff" stroke="#000" stroke-width="1.9"/>
<circle cx="1115.5" cy="1057.5" r="6.7" fill="#fff" stroke="#000" stroke-width="1.9"/>
<circle cx="1133.2" cy="1031.9" r="6.7" fill="#fff" stroke="#000" stroke-width="1.9"/>
<circle cx="1150.9" cy="1069.4" r="6.7" fill="#fff" stroke="#000" stroke-width="1.9"/>
<circle cx="1168.6" cy="1054.5" r="6.7" fill="#fff" stroke="#000" stroke-width="1.9"/>
<circle cx="1186.3" cy="1052.4" r="6.7" fill="#fff" stroke="#000" stroke-width="1.9"/>
<circle cx="1204.0" cy="1029.6" r="6.7" fill="#fff" stroke="#000" stroke-width="1.9"/>
<circle cx="1221.8" cy="1033.3" r="6.7" fill="#fff" stroke="#000" stroke-width="1.9"/>
<path d="M814.6,964.3 L832.3,938.7 L850.0,992.1 L867.8,982.2 L885.4,953.7 L903.1,983.0 L920.8,1022.0 L938.5,1030.5 L956.2,1012.6 L973.9,984.1 L991.6,979.3 L1009.3,994.4 L1027.0,1029.6 L1044.8,1030.5 L1062.4,1050.4 L1080.1,1052.4 L1097.8,1038.1 L1115.5,1052.4 L1133.2,1060.3 L1150.9,1063.7 L1168.6,1055.1 L1186.3,1046.6 L1204.0,1050.4 L1221.8,1022.0" fill="none" stroke="#000" stroke-width="1.85"/>
<path d="M814.6,950.3V978.3M811.8,950.3H817.5M811.8,978.3H817.5" stroke="#000" stroke-width="2.0" fill="none"/>
<path d="M832.3,919.7V957.7M829.4,919.7H835.2M829.4,957.7H835.2" stroke="#000" stroke-width="2.0" fill="none"/>
<path d="M850.0,972.1V1012.1M847.1,972.1H852.9M847.1,1012.1H852.9" stroke="#000" stroke-width="2.0" fill="none"/>
<path d="M867.8,974.7V989.7M864.9,974.7H870.6M864.9,989.7H870.6" stroke="#000" stroke-width="2.0" fill="none"/>
<path d="M885.4,934.7V972.7M882.5,934.7H888.3M882.5,972.7H888.3" stroke="#000" stroke-width="2.0" fill="none"/>
<path d="M903.1,959.4V1006.6M900.2,959.4H906.0M900.2,1006.6H906.0" stroke="#000" stroke-width="2.0" fill="none"/>
<path d="M920.8,1014.6V1029.4M917.9,1014.6H923.7M917.9,1029.4H923.7" stroke="#000" stroke-width="2.0" fill="none"/>
<path d="M938.5,1014.5V1046.5M935.6,1014.5H941.4M935.6,1046.5H941.4" stroke="#000" stroke-width="2.0" fill="none"/>
<path d="M956.2,997.6V1027.6M953.4,997.6H959.1M953.4,1027.6H959.1" stroke="#000" stroke-width="2.0" fill="none"/>
<path d="M973.9,969.6V998.6M971.0,969.6H976.8M971.0,998.6H976.8" stroke="#000" stroke-width="2.0" fill="none"/>
<path d="M991.6,960.3V998.3M988.8,960.3H994.5M988.8,998.3H994.5" stroke="#000" stroke-width="2.0" fill="none"/>
<path d="M1009.3,975.4V1013.4M1006.4,975.4H1012.2M1006.4,1013.4H1012.2" stroke="#000" stroke-width="2.0" fill="none"/>
<path d="M1027.0,1018.6V1040.6M1024.1,1018.6H1030.0M1024.1,1040.6H1030.0" stroke="#000" stroke-width="2.0" fill="none"/>
<path d="M1044.8,1020.5V1040.5M1041.8,1020.5H1047.7M1041.8,1040.5H1047.7" stroke="#000" stroke-width="2.0" fill="none"/>
<path d="M1062.4,1038.4V1062.4M1059.5,1038.4H1065.3M1059.5,1062.4H1065.3" stroke="#000" stroke-width="2.0" fill="none"/>
<path d="M1080.1,1034.9V1069.9M1077.2,1034.9H1083.0M1077.2,1069.9H1083.0" stroke="#000" stroke-width="2.0" fill="none"/>
<path d="M1097.8,1020.1V1056.1M1094.9,1020.1H1100.8M1094.9,1056.1H1100.8" stroke="#000" stroke-width="2.0" fill="none"/>
<path d="M1115.5,1038.4V1066.4M1112.6,1038.4H1118.5M1112.6,1066.4H1118.5" stroke="#000" stroke-width="2.0" fill="none"/>
<path d="M1133.2,1044.3V1076.3M1130.3,1044.3H1136.2M1130.3,1076.3H1136.2" stroke="#000" stroke-width="2.0" fill="none"/>
<path d="M1150.9,1051.7V1075.7M1148.0,1051.7H1153.8M1148.0,1075.7H1153.8" stroke="#000" stroke-width="2.0" fill="none"/>
<path d="M1168.6,1040.6V1069.6M1165.7,1040.6H1171.5M1165.7,1069.6H1171.5" stroke="#000" stroke-width="2.0" fill="none"/>
<path d="M1186.3,1031.6V1061.6M1183.4,1031.6H1189.2M1183.4,1061.6H1189.2" stroke="#000" stroke-width="2.0" fill="none"/>
<path d="M1204.0,1036.4V1064.4M1201.1,1036.4H1207.0M1201.1,1064.4H1207.0" stroke="#000" stroke-width="2.0" fill="none"/>
<path d="M1221.8,1013.0V1031.0M1218.8,1013.0H1224.7M1218.8,1031.0H1224.7" stroke="#000" stroke-width="2.0" fill="none"/>
<circle cx="814.6" cy="964.3" r="7.75" fill="#000"/>
<circle cx="832.3" cy="938.7" r="7.75" fill="#000"/>
<circle cx="850.0" cy="992.1" r="7.75" fill="#000"/>
<circle cx="867.8" cy="982.2" r="7.75" fill="#000"/>
<circle cx="885.4" cy="953.7" r="7.75" fill="#000"/>
<circle cx="903.1" cy="983.0" r="7.75" fill="#000"/>
<circle cx="920.8" cy="1022.0" r="7.75" fill="#000"/>
<circle cx="938.5" cy="1030.5" r="7.75" fill="#000"/>
<circle cx="956.2" cy="1012.6" r="7.75" fill="#000"/>
<circle cx="973.9" cy="984.1" r="7.75" fill="#000"/>
<circle cx="991.6" cy="979.3" r="7.75" fill="#000"/>
<circle cx="1009.3" cy="994.4" r="7.75" fill="#000"/>
<circle cx="1027.0" cy="1029.6" r="7.75" fill="#000"/>
<circle cx="1044.8" cy="1030.5" r="7.75" fill="#000"/>
<circle cx="1062.4" cy="1050.4" r="7.75" fill="#000"/>
<circle cx="1080.1" cy="1052.4" r="7.75" fill="#000"/>
<circle cx="1097.8" cy="1038.1" r="7.75" fill="#000"/>
<circle cx="1115.5" cy="1052.4" r="7.75" fill="#000"/>
<circle cx="1133.2" cy="1060.3" r="7.75" fill="#000"/>
<circle cx="1150.9" cy="1063.7" r="7.75" fill="#000"/>
<circle cx="1168.6" cy="1055.1" r="7.75" fill="#000"/>
<circle cx="1186.3" cy="1046.6" r="7.75" fill="#000"/>
<circle cx="1204.0" cy="1050.4" r="7.75" fill="#000"/>
<circle cx="1221.8" cy="1022.0" r="7.75" fill="#000"/>
<text x="1129.3" y="879.8" font-family="'Liberation Sans', Arial, sans-serif" font-size="32.3" text-anchor="start" >Wake</text>
<text x="96.2" y="1210.0" font-family="'Liberation Sans', Arial, sans-serif" font-size="37.5" text-anchor="start" >19:00</text>
<text x="223.7" y="1210.0" font-family="'Liberation Sans', Arial, sans-serif" font-size="37.5" text-anchor="start" >1:00</text>
<text x="335.0" y="1210.0" font-family="'Liberation Sans', Arial, sans-serif" font-size="37.5" text-anchor="start" >7:00</text>
<text x="427.3" y="1210.0" font-family="'Liberation Sans', Arial, sans-serif" font-size="37.5" text-anchor="start" >13:00</text>
<text x="538.4" y="1210.0" font-family="'Liberation Sans', Arial, sans-serif" font-size="37.5" text-anchor="start" >19:00</text>
<text x="756.9" y="1209.7" font-family="'Liberation Sans', Arial, sans-serif" font-size="37.5" text-anchor="start" >19:00</text>
<text x="882.0" y="1209.7" font-family="'Liberation Sans', Arial, sans-serif" font-size="37.5" text-anchor="start" >1:00</text>
<text x="989.8" y="1209.7" font-family="'Liberation Sans', Arial, sans-serif" font-size="37.5" text-anchor="start" >7:00</text>
<text x="1077.0" y="1209.7" font-family="'Liberation Sans', Arial, sans-serif" font-size="37.5" text-anchor="start" >13:00</text>
<text x="1181.5" y="1209.7" font-family="'Liberation Sans', Arial, sans-serif" font-size="37.5" text-anchor="start" >19:00</text>
<text x="360.1" y="1260.4" font-family="'Liberation Sans', Arial, sans-serif" font-size="51" text-anchor="middle" >Clock time</text>
<text x="1012.1" y="1260.4" font-family="'Liberation Sans', Arial, sans-serif" font-size="51" text-anchor="middle" >Clock time</text>
<text transform="translate(36.6,1019) rotate(-90)" font-family="'Liberation Sans', Arial, sans-serif" font-size="51">Time spent in each stage (min/h)</text>
<text transform="translate(1401,1003.3) rotate(-90)" font-family="'Liberation Sans', Arial, sans-serif" font-size="50.2">Amount of each stage (min/5 h)</text>
<line x1="178.1" y1="105.5" x2="178.1" y2="144.7" stroke="#000" stroke-width="1.75" />
<path d="M172.1,139.4L178.1,148.9L183.7,139.4" fill="none" stroke="#000" stroke-width="2.0" stroke-linejoin="miter" stroke-miterlimit="10"/>
<path d="M175.2,142.9L178.1,149.7L180.8,142.9Q178.1,144.5 175.2,142.9Z" fill="#000"/>
<text x="188.3" y="117.7" font-family="'Liberation Sans', Arial, sans-serif" font-size="34" text-anchor="start" >i.p.</text>
<line x1="846.3" y1="105.5" x2="846.3" y2="144.7" stroke="#000" stroke-width="1.75" />
<path d="M840.3,139.4L846.3,148.9L851.9,139.4" fill="none" stroke="#000" stroke-width="2.0" stroke-linejoin="miter" stroke-miterlimit="10"/>
<path d="M843.4,142.9L846.3,149.7L849.0,142.9Q846.3,144.5 843.4,142.9Z" fill="#000"/>
<text x="856.0" y="117.6" font-family="'Liberation Sans', Arial, sans-serif" font-size="34" text-anchor="start" >i.p.</text>
<line x1="403.1" y1="327.3" x2="455.7" y2="327.3" stroke="#000" stroke-width="1.8" />
<circle cx="429.6" cy="327.5" r="6.7" fill="#fff" stroke="#000" stroke-width="1.9"/>
<text x="461.3" y="333.5" font-family="'Liberation Sans', Arial, sans-serif" font-size="25" text-anchor="start" >Saline</text>
<line x1="403.1" y1="365.0" x2="455.7" y2="365.0" stroke="#000" stroke-width="1.8" />
<circle cx="429.6" cy="365.3" r="7.75" fill="#000"/>
<text x="461.8" y="373.7" font-family="'Liberation Sans', Arial, sans-serif" font-size="25.3" text-anchor="start" >Ethanol 3.0 g/kg</text>
<text x="191.6" y="163.6" font-family="IPAGothic, sans-serif" font-size="28.2" text-anchor="middle" stroke="#000" stroke-width="0.2">*</text>
<text x="191.6" y="180.7" font-family="IPAGothic, sans-serif" font-size="28.2" text-anchor="middle" stroke="#000" stroke-width="0.2">*</text>
<text x="209.9" y="162.7" font-family="IPAGothic, sans-serif" font-size="28.2" text-anchor="middle" stroke="#000" stroke-width="0.2">*</text>
<text x="209.9" y="179.7" font-family="IPAGothic, sans-serif" font-size="28.2" text-anchor="middle" stroke="#000" stroke-width="0.2">*</text>
<text x="228.5" y="203.9" font-family="IPAGothic, sans-serif" font-size="28.2" text-anchor="middle" stroke="#000" stroke-width="0.2">*</text>
<text x="228.5" y="220.9" font-family="IPAGothic, sans-serif" font-size="28.2" text-anchor="middle" stroke="#000" stroke-width="0.2">*</text>
<text x="247.1" y="164.9" font-family="IPAGothic, sans-serif" font-size="28.2" text-anchor="middle" stroke="#000" stroke-width="0.2">*</text>
<text x="247.1" y="181.7" font-family="IPAGothic, sans-serif" font-size="28.2" text-anchor="middle" stroke="#000" stroke-width="0.2">*</text>
<text x="264.9" y="194.7" font-family="IPAGothic, sans-serif" font-size="28.2" text-anchor="middle" stroke="#000" stroke-width="0.2">*</text>
<text x="192.0" y="1065.8" font-family="IPAGothic, sans-serif" font-size="28.2" text-anchor="middle" stroke="#000" stroke-width="0.2">*</text>
<text x="192.0" y="1083.0" font-family="IPAGothic, sans-serif" font-size="28.2" text-anchor="middle" stroke="#000" stroke-width="0.2">*</text>
<text x="210.4" y="1066.9" font-family="IPAGothic, sans-serif" font-size="28.2" text-anchor="middle" stroke="#000" stroke-width="0.2">*</text>
<text x="210.4" y="1084.7" font-family="IPAGothic, sans-serif" font-size="28.2" text-anchor="middle" stroke="#000" stroke-width="0.2">*</text>
<text x="228.8" y="1042.0" font-family="IPAGothic, sans-serif" font-size="28.2" text-anchor="middle" stroke="#000" stroke-width="0.2">*</text>
<text x="228.8" y="1058.5" font-family="IPAGothic, sans-serif" font-size="28.2" text-anchor="middle" stroke="#000" stroke-width="0.2">*</text>
<text x="247.3" y="1075.2" font-family="IPAGothic, sans-serif" font-size="28.2" text-anchor="middle" stroke="#000" stroke-width="0.2">*</text>
<text x="247.3" y="1091.8" font-family="IPAGothic, sans-serif" font-size="28.2" text-anchor="middle" stroke="#000" stroke-width="0.2">*</text>
<text x="265.5" y="1068.1" font-family="IPAGothic, sans-serif" font-size="28.2" text-anchor="middle" stroke="#000" stroke-width="0.2">*</text>
<line x1="1505.5" y1="136.2" x2="1505.5" y2="440.8" stroke="#000" stroke-width="3.6" />
<line x1="1497.5" y1="433.8" x2="1507.3" y2="433.8" stroke="#000" stroke-width="3.6" />
<line x1="1497.5" y1="335.2" x2="1507.3" y2="335.2" stroke="#000" stroke-width="3.6" />
<line x1="1497.5" y1="236.6" x2="1507.3" y2="236.6" stroke="#000" stroke-width="3.6" />
<line x1="1497.5" y1="138.0" x2="1507.3" y2="138.0" stroke="#000" stroke-width="3.6" />
<text x="1491.0" y="448.1" font-family="'Liberation Sans', Arial, sans-serif" font-size="32.3" text-anchor="end" >50</text>
<text x="1491.0" y="349.5" font-family="'Liberation Sans', Arial, sans-serif" font-size="32.3" text-anchor="end" >100</text>
<text x="1491.0" y="250.9" font-family="'Liberation Sans', Arial, sans-serif" font-size="32.3" text-anchor="end" >150</text>
<text x="1491.0" y="152.3" font-family="'Liberation Sans', Arial, sans-serif" font-size="32.3" text-anchor="end" >200</text>
<line x1="1582.9" y1="363.5" x2="1582.9" y2="350.7" stroke="#000" stroke-width="1.8" />
<line x1="1579.5" y1="350.7" x2="1586.3" y2="350.7" stroke="#000" stroke-width="2.0" />
<rect x="1563.9" y="364.3" width="38.1" height="69.5" fill="#fff" stroke="#000" stroke-width="1.6"/>
<line x1="1623.8" y1="239.9" x2="1623.8" y2="224.9" stroke="#000" stroke-width="1.8" />
<line x1="1620.4" y1="224.9" x2="1627.2" y2="224.9" stroke="#000" stroke-width="2.0" />
<rect x="1602.8" y="239.9" width="42.0" height="193.9" fill="#000"/>
<line x1="1779.2" y1="342.7" x2="1779.2" y2="328.1" stroke="#000" stroke-width="1.8" />
<line x1="1775.8" y1="328.1" x2="1782.6" y2="328.1" stroke="#000" stroke-width="2.0" />
<rect x="1760.0" y="343.5" width="38.4" height="90.3" fill="#fff" stroke="#000" stroke-width="1.6"/>
<line x1="1819.8" y1="309.9" x2="1819.8" y2="297.8" stroke="#000" stroke-width="1.8" />
<line x1="1816.4" y1="297.8" x2="1823.2" y2="297.8" stroke="#000" stroke-width="2.0" />
<rect x="1799.2" y="309.9" width="41.3" height="123.9" fill="#000"/>
<line x1="1503.7" y1="433.8" x2="1900.0" y2="433.8" stroke="#000" stroke-width="3.6" />
<line x1="1603.2" y1="433.8" x2="1603.2" y2="441.3" stroke="#000" stroke-width="3.6" />
<line x1="1799.4" y1="433.8" x2="1799.4" y2="441.3" stroke="#000" stroke-width="3.6" />
<line x1="1897.5" y1="433.8" x2="1897.5" y2="441.3" stroke="#000" stroke-width="3.6" />
<line x1="1505.5" y1="506.7" x2="1505.5" y2="810.9" stroke="#000" stroke-width="3.6" />
<line x1="1497.5" y1="803.9" x2="1507.3" y2="803.9" stroke="#000" stroke-width="3.6" />
<line x1="1497.5" y1="705.4" x2="1507.3" y2="705.4" stroke="#000" stroke-width="3.6" />
<line x1="1497.5" y1="607.0" x2="1507.3" y2="607.0" stroke="#000" stroke-width="3.6" />
<line x1="1497.5" y1="508.5" x2="1507.3" y2="508.5" stroke="#000" stroke-width="3.6" />
<text x="1491.0" y="818.2" font-family="'Liberation Sans', Arial, sans-serif" font-size="32.3" text-anchor="end" >0</text>
<text x="1491.0" y="719.7" font-family="'Liberation Sans', Arial, sans-serif" font-size="32.3" text-anchor="end" >5</text>
<text x="1491.0" y="621.3" font-family="'Liberation Sans', Arial, sans-serif" font-size="32.3" text-anchor="end" >10</text>
<text x="1491.0" y="522.8" font-family="'Liberation Sans', Arial, sans-serif" font-size="32.3" text-anchor="end" >15</text>
<line x1="1583.2" y1="705.6" x2="1583.2" y2="688.2" stroke="#000" stroke-width="1.8" />
<line x1="1579.8" y1="688.2" x2="1586.6" y2="688.2" stroke="#000" stroke-width="2.0" />
<rect x="1564.3" y="706.4" width="37.7" height="97.5" fill="#fff" stroke="#000" stroke-width="1.6"/>
<line x1="1623.8" y1="691.4" x2="1623.8" y2="667.0" stroke="#000" stroke-width="1.8" />
<line x1="1620.4" y1="667.0" x2="1627.2" y2="667.0" stroke="#000" stroke-width="2.0" />
<rect x="1602.8" y="691.4" width="42.1" height="112.5" fill="#000"/>
<line x1="1779.7" y1="644.8" x2="1779.7" y2="586.8" stroke="#000" stroke-width="1.8" />
<line x1="1776.3" y1="586.8" x2="1783.1" y2="586.8" stroke="#000" stroke-width="2.0" />
<rect x="1760.8" y="645.6" width="37.8" height="158.3" fill="#fff" stroke="#000" stroke-width="1.6"/>
<line x1="1820.4" y1="748.4" x2="1820.4" y2="730.0" stroke="#000" stroke-width="1.8" />
<line x1="1817.0" y1="730.0" x2="1823.8" y2="730.0" stroke="#000" stroke-width="2.0" />
<rect x="1799.4" y="748.4" width="42.0" height="55.5" fill="#000"/>
<line x1="1503.7" y1="803.9" x2="1900.0" y2="803.9" stroke="#000" stroke-width="3.6" />
<line x1="1603.2" y1="803.9" x2="1603.2" y2="811.4" stroke="#000" stroke-width="3.6" />
<line x1="1799.4" y1="803.9" x2="1799.4" y2="811.4" stroke="#000" stroke-width="3.6" />
<line x1="1897.5" y1="803.9" x2="1897.5" y2="811.4" stroke="#000" stroke-width="3.6" />
<line x1="1505.5" y1="878.0" x2="1505.5" y2="1181.5" stroke="#000" stroke-width="3.6" />
<line x1="1497.5" y1="1174.5" x2="1507.3" y2="1174.5" stroke="#000" stroke-width="3.6" />
<line x1="1497.5" y1="1076.2" x2="1507.3" y2="1076.2" stroke="#000" stroke-width="3.6" />
<line x1="1497.5" y1="978.0" x2="1507.3" y2="978.0" stroke="#000" stroke-width="3.6" />
<line x1="1497.5" y1="879.8" x2="1507.3" y2="879.8" stroke="#000" stroke-width="3.6" />
<text x="1491.0" y="1188.8" font-family="'Liberation Sans', Arial, sans-serif" font-size="32.3" text-anchor="end" >100</text>
<text x="1491.0" y="1090.5" font-family="'Liberation Sans', Arial, sans-serif" font-size="32.3" text-anchor="end" >150</text>
<text x="1491.0" y="992.3" font-family="'Liberation Sans', Arial, sans-serif" font-size="32.3" text-anchor="end" >200</text>
<text x="1491.0" y="894.0" font-family="'Liberation Sans', Arial, sans-serif" font-size="32.3" text-anchor="end" >250</text>
<line x1="1583.2" y1="959.7" x2="1583.2" y2="947.0" stroke="#000" stroke-width="1.8" />
<line x1="1579.8" y1="947.0" x2="1586.7" y2="947.0" stroke="#000" stroke-width="2.0" />
<rect x="1564.1" y="960.5" width="38.3" height="214.0" fill="#fff" stroke="#000" stroke-width="1.6"/>
<line x1="1624.2" y1="1083.4" x2="1624.2" y2="1069.0" stroke="#000" stroke-width="1.8" />
<line x1="1620.8" y1="1069.0" x2="1627.7" y2="1069.0" stroke="#000" stroke-width="2.0" />
<rect x="1603.2" y="1083.4" width="42.1" height="91.1" fill="#000"/>
<line x1="1779.4" y1="986.4" x2="1779.4" y2="968.7" stroke="#000" stroke-width="1.8" />
<line x1="1776.0" y1="968.7" x2="1782.8" y2="968.7" stroke="#000" stroke-width="2.0" />
<rect x="1760.4" y="987.2" width="38.0" height="187.3" fill="#fff" stroke="#000" stroke-width="1.6"/>
<line x1="1820.3" y1="1008.2" x2="1820.3" y2="996.5" stroke="#000" stroke-width="1.8" />
<line x1="1816.9" y1="996.5" x2="1823.8" y2="996.5" stroke="#000" stroke-width="2.0" />
<rect x="1799.2" y="1008.2" width="42.3" height="166.3" fill="#000"/>
<line x1="1503.7" y1="1174.5" x2="1900.0" y2="1174.5" stroke="#000" stroke-width="3.6" />
<line x1="1603.2" y1="1174.5" x2="1603.2" y2="1182.0" stroke="#000" stroke-width="3.6" />
<line x1="1799.4" y1="1174.5" x2="1799.4" y2="1182.0" stroke="#000" stroke-width="3.6" />
<line x1="1897.5" y1="1174.5" x2="1897.5" y2="1182.0" stroke="#000" stroke-width="3.6" />
<text x="1743.5" y="103.9" font-family="'Liberation Sans', Arial, sans-serif" font-size="32.3" text-anchor="start" >NREM</text>
<text x="1743.7" y="500.6" font-family="'Liberation Sans', Arial, sans-serif" font-size="32.3" text-anchor="start" >REM</text>
<text x="1760.1" y="880.1" font-family="'Liberation Sans', Arial, sans-serif" font-size="32.3" text-anchor="start" >Wake</text>
<rect x="1525.5" y="17.1" width="20.3" height="17.8" fill="#fff" stroke="#000" stroke-width="2"/>
<text x="1560.2" y="35.6" font-family="'Liberation Sans', Arial, sans-serif" font-size="25" text-anchor="start" >Vehicle</text>
<rect x="1524.5" y="48.6" width="22.7" height="19.6" fill="#000"/>
<text x="1562.6" y="67.5" font-family="'Liberation Sans', Arial, sans-serif" font-size="25.4" text-anchor="start" >Ethanol 3.0 g/kg</text>
<path d="M1623.1,182.5V176.1H1822.3V182.5" fill="none" stroke="#000" stroke-width="2"/>
<text x="1724.0" y="163.4" font-family="'Liberation Sans', Arial, sans-serif" font-size="25" text-anchor="middle" >p&lt;0.01</text>
<path d="M1622.5,939.5V933H1820.4V939.5" fill="none" stroke="#000" stroke-width="2"/>
<text x="1718.3" y="920.9" font-family="'Liberation Sans', Arial, sans-serif" font-size="25" text-anchor="middle" >p&lt;0.01</text>
<text x="1616.1" y="218.2" font-family="IPAGothic, sans-serif" font-size="30" text-anchor="middle" stroke="#000" stroke-width="0.2">*</text>
<text x="1633.7" y="218.1" font-family="IPAGothic, sans-serif" font-size="30" text-anchor="middle" stroke="#000" stroke-width="0.2">*</text>
<text x="1616.5" y="1062.1" font-family="IPAGothic, sans-serif" font-size="30" text-anchor="middle" stroke="#000" stroke-width="0.2">*</text>
<text x="1634.3" y="1062.1" font-family="IPAGothic, sans-serif" font-size="30" text-anchor="middle" stroke="#000" stroke-width="0.2">*</text>
<text x="1505.1" y="1228.5" font-family="'Liberation Sans', Arial, sans-serif" font-size="38.5">A<tspan font-size="28.8">2A</tspan>R</text>
<text x="1615.8" y="1228.5" font-family="'Liberation Sans', Arial, sans-serif" font-size="38.5">WT</text>
<text x="1716.7" y="1228.5" font-family="'Liberation Sans', Arial, sans-serif" font-size="38.5">A<tspan font-size="28.8">2A</tspan>R</text>
<text x="1824.7" y="1228.5" font-family="'Liberation Sans', Arial, sans-serif" font-size="38.5">KO</text>
</svg>
</body></html>
